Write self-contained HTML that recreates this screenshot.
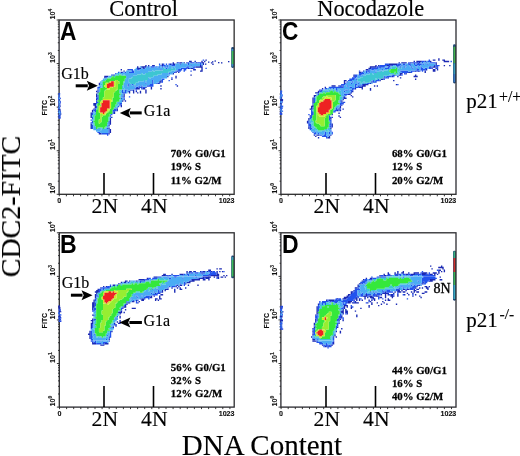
<!DOCTYPE html>
<html><head><meta charset="utf-8"><style>
html,body{margin:0;padding:0;background:#fff;width:520px;height:456px;overflow:hidden}
svg{display:block}
.tl{font-family:"Liberation Sans",sans-serif;font-weight:bold;font-size:6.5px;fill:#111;stroke:#111;stroke-width:0.12px}
.pl{font-family:"Liberation Sans",sans-serif;font-weight:bold;font-size:25px;fill:#000}
.nl{font-family:"Liberation Serif",serif;font-size:21.6px;fill:#000;stroke:#000;stroke-width:0.15px}
.pc{font-family:"Liberation Serif",serif;font-weight:bold;font-size:10.8px;fill:#000;stroke:#000;stroke-width:0.28px}
.gl{font-family:"Liberation Serif",serif;font-size:16px;fill:#000;stroke:#000;stroke-width:0.15px}
.big{font-family:"Liberation Serif",serif;fill:#000;stroke:#000;stroke-width:0.15px}
</style></head><body>
<svg width="520" height="456" viewBox="0 0 520 456">
<defs>
<filter id="glob" x="0" y="0" width="100%" height="100%" filterUnits="userSpaceOnUse"><feGaussianBlur stdDeviation="0.25"/></filter>
<filter id="jpg" x="-2%" y="-2%" width="104%" height="104%"><feGaussianBlur stdDeviation="0.45"/></filter>
</defs>
<rect width="520" height="456" fill="#fff"/>
<g filter="url(#glob)">
<g filter="url(#jpg)">
<path fill="#1a2ab4" d="M205.43 59.49h1.37v1.36h-1.37zM189.02 60.85h2.74v1.36h-2.74zM194.49 60.85h1.37v1.36h-1.37zM201.33 60.85h1.37v1.36h-1.37zM204.06 60.85h1.37v1.36h-1.37zM172.61 62.21h1.37v1.36h-1.37zM176.71 62.21h1.37v1.36h-1.37zM179.45 62.21h2.74v1.36h-2.74zM183.55 62.21h1.37v1.36h-1.37zM186.28 62.21h1.37v1.36h-1.37zM190.39 62.21h1.37v1.36h-1.37zM195.86 62.21h1.37v1.36h-1.37zM201.33 62.21h2.74v1.36h-2.74zM210.90 62.21h1.37v1.36h-1.37zM161.67 63.58h1.37v1.36h-1.37zM169.87 63.58h1.37v1.36h-1.37zM172.61 63.58h2.74v1.36h-2.74zM202.70 63.58h1.37v1.36h-1.37zM212.27 63.58h1.37v1.36h-1.37zM145.26 64.94h1.37v1.36h-1.37zM147.99 64.94h1.37v1.36h-1.37zM152.10 64.94h2.74v1.36h-2.74zM161.67 64.94h1.37v1.36h-1.37zM199.96 64.94h1.37v1.36h-1.37zM137.05 66.30h1.37v1.36h-1.37zM141.15 66.30h5.47v1.36h-5.47zM195.86 66.30h6.84v1.36h-6.84zM137.05 67.66h4.10v1.36h-4.10zM142.52 67.66h1.37v1.36h-1.37zM187.65 67.66h1.37v1.36h-1.37zM190.39 67.66h2.74v1.36h-2.74zM201.33 67.66h1.37v1.36h-1.37zM120.64 69.02h1.37v1.36h-1.37zM127.48 69.02h1.37v1.36h-1.37zM193.12 69.02h2.74v1.36h-2.74zM201.33 69.02h1.37v1.36h-1.37zM123.38 70.38h1.37v1.36h-1.37zM176.71 70.38h1.37v1.36h-1.37zM199.96 70.38h2.74v1.36h-2.74zM120.64 71.75h1.37v1.36h-1.37zM175.34 71.75h1.37v1.36h-1.37zM178.08 71.75h1.37v1.36h-1.37zM172.61 73.11h1.37v1.36h-1.37zM112.44 74.47h1.37v1.36h-1.37zM190.39 74.47h1.37v1.36h-1.37zM104.23 75.83h4.10v1.36h-4.10zM167.14 75.83h1.37v1.36h-1.37zM175.34 75.83h1.37v1.36h-1.37zM104.23 77.19h1.37v1.36h-1.37zM175.34 77.19h1.37v1.36h-1.37zM171.24 78.55h1.37v1.36h-1.37zM160.30 79.92h1.37v1.36h-1.37zM158.93 81.28h2.74v1.36h-2.74zM98.76 82.64h1.37v1.36h-1.37zM157.57 82.64h1.37v1.36h-1.37zM98.76 84.00h1.37v1.36h-1.37zM160.30 85.36h1.37v1.36h-1.37zM176.71 85.36h1.37v1.36h-1.37zM137.05 86.72h1.37v1.36h-1.37zM141.15 86.72h1.37v1.36h-1.37zM145.26 86.72h1.37v1.36h-1.37zM150.73 86.72h1.37v1.36h-1.37zM135.68 88.09h4.10v1.36h-4.10zM142.52 88.09h2.74v1.36h-2.74zM150.73 88.09h1.37v1.36h-1.37zM160.30 88.09h1.37v1.36h-1.37zM97.39 89.45h1.37v1.36h-1.37zM130.21 89.45h1.37v1.36h-1.37zM132.95 89.45h1.37v1.36h-1.37zM145.26 89.45h1.37v1.36h-1.37zM96.02 90.81h1.37v1.36h-1.37zM128.85 90.81h1.37v1.36h-1.37zM132.95 90.81h1.37v1.36h-1.37zM135.68 90.81h1.37v1.36h-1.37zM139.79 90.81h1.37v1.36h-1.37zM145.26 90.81h1.37v1.36h-1.37zM97.39 92.17h1.37v1.36h-1.37zM128.85 92.17h1.37v1.36h-1.37zM132.95 92.17h1.37v1.36h-1.37zM137.05 92.17h1.37v1.36h-1.37zM139.79 92.17h1.37v1.36h-1.37zM145.26 92.17h1.37v1.36h-1.37zM96.02 93.53h1.37v1.36h-1.37zM123.38 93.53h1.37v1.36h-1.37zM96.02 94.89h1.37v1.36h-1.37zM123.38 94.89h1.37v1.36h-1.37zM96.02 96.26h1.37v1.36h-1.37zM123.38 96.26h1.37v1.36h-1.37zM96.02 98.98h1.37v1.36h-1.37zM123.38 98.98h1.37v1.36h-1.37zM122.01 100.34h1.37v1.36h-1.37zM124.74 100.34h1.37v1.36h-1.37zM93.29 103.06h2.74v1.36h-2.74zM93.29 104.43h2.74v1.36h-2.74zM120.64 104.43h1.37v1.36h-1.37zM94.66 105.79h1.37v1.36h-1.37zM120.64 105.79h1.37v1.36h-1.37zM94.66 107.15h1.37v1.36h-1.37zM93.29 108.51h1.37v1.36h-1.37zM116.54 108.51h1.37v1.36h-1.37zM91.92 109.87h1.37v1.36h-1.37zM116.54 109.87h1.37v1.36h-1.37zM91.92 111.24h1.37v1.36h-1.37zM113.80 111.24h1.37v1.36h-1.37zM90.55 112.60h1.37v1.36h-1.37zM113.80 112.60h1.37v1.36h-1.37zM90.55 113.96h1.37v1.36h-1.37zM90.55 115.32h1.37v1.36h-1.37zM109.70 115.32h1.37v1.36h-1.37zM90.55 116.68h1.37v1.36h-1.37zM111.07 116.68h1.37v1.36h-1.37zM109.70 118.04h1.37v1.36h-1.37zM109.70 119.41h1.37v1.36h-1.37zM109.70 120.77h1.37v1.36h-1.37zM109.70 122.13h1.37v1.36h-1.37zM90.55 123.49h1.37v1.36h-1.37zM109.70 123.49h1.37v1.36h-1.37zM90.55 124.85h1.37v1.36h-1.37zM108.33 124.85h1.37v1.36h-1.37zM90.55 126.21h1.37v1.36h-1.37zM90.55 127.58h1.37v1.36h-1.37zM108.33 127.58h1.37v1.36h-1.37zM109.70 128.94h1.37v1.36h-1.37zM109.70 130.30h1.37v1.36h-1.37zM109.70 131.66h1.37v1.36h-1.37zM98.76 133.02h2.74v1.36h-2.74zM108.33 133.02h1.37v1.36h-1.37z"/>
<path fill="#2452ee" d="M202.70 59.49h1.37v1.36h-1.37zM178.08 62.21h1.37v1.36h-1.37zM187.65 62.21h1.37v1.36h-1.37zM191.76 62.21h2.74v1.36h-2.74zM197.23 62.21h4.10v1.36h-4.10zM158.93 63.58h1.37v1.36h-1.37zM163.04 63.58h1.37v1.36h-1.37zM165.77 63.58h1.37v1.36h-1.37zM168.51 63.58h1.37v1.36h-1.37zM171.24 63.58h1.37v1.36h-1.37zM179.45 63.58h1.37v1.36h-1.37zM187.65 63.58h1.37v1.36h-1.37zM199.96 63.58h1.37v1.36h-1.37zM160.30 64.94h1.37v1.36h-1.37zM163.04 64.94h2.74v1.36h-2.74zM167.14 64.94h1.37v1.36h-1.37zM171.24 64.94h4.10v1.36h-4.10zM190.39 64.94h1.37v1.36h-1.37zM201.33 64.94h1.37v1.36h-1.37zM147.99 66.30h1.37v1.36h-1.37zM150.73 66.30h4.10v1.36h-4.10zM156.20 66.30h1.37v1.36h-1.37zM158.93 66.30h1.37v1.36h-1.37zM161.67 66.30h1.37v1.36h-1.37zM164.40 66.30h1.37v1.36h-1.37zM167.14 66.30h1.37v1.36h-1.37zM186.28 66.30h2.74v1.36h-2.74zM193.12 66.30h2.74v1.36h-2.74zM143.89 67.66h1.37v1.36h-1.37zM165.77 67.66h1.37v1.36h-1.37zM180.81 67.66h6.84v1.36h-6.84zM189.02 67.66h1.37v1.36h-1.37zM193.12 67.66h1.37v1.36h-1.37zM205.43 67.66h1.37v1.36h-1.37zM128.85 69.02h4.10v1.36h-4.10zM137.05 69.02h2.74v1.36h-2.74zM160.30 69.02h1.37v1.36h-1.37zM178.08 69.02h4.10v1.36h-4.10zM183.55 69.02h2.74v1.36h-2.74zM131.58 70.38h2.74v1.36h-2.74zM175.34 70.38h1.37v1.36h-1.37zM178.08 70.38h2.74v1.36h-2.74zM183.55 70.38h1.37v1.36h-1.37zM190.39 70.38h1.37v1.36h-1.37zM117.91 71.75h1.37v1.36h-1.37zM122.01 71.75h1.37v1.36h-1.37zM124.74 71.75h1.37v1.36h-1.37zM128.85 71.75h5.47v1.36h-5.47zM173.98 71.75h1.37v1.36h-1.37zM115.17 73.11h1.37v1.36h-1.37zM168.51 73.11h1.37v1.36h-1.37zM111.07 74.47h1.37v1.36h-1.37zM113.80 74.47h1.37v1.36h-1.37zM105.60 77.19h1.37v1.36h-1.37zM171.24 77.19h1.37v1.36h-1.37zM161.67 78.55h2.74v1.36h-2.74zM152.10 79.92h1.37v1.36h-1.37zM161.67 79.92h1.37v1.36h-1.37zM168.51 79.92h1.37v1.36h-1.37zM152.10 81.28h1.37v1.36h-1.37zM161.67 81.28h1.37v1.36h-1.37zM145.26 82.64h1.37v1.36h-1.37zM152.10 82.64h1.37v1.36h-1.37zM156.20 82.64h1.37v1.36h-1.37zM158.93 82.64h1.37v1.36h-1.37zM127.48 84.00h1.37v1.36h-1.37zM131.58 84.00h1.37v1.36h-1.37zM149.36 84.00h4.10v1.36h-4.10zM175.34 84.00h1.37v1.36h-1.37zM127.48 85.36h1.37v1.36h-1.37zM134.32 85.36h1.37v1.36h-1.37zM138.42 85.36h1.37v1.36h-1.37zM141.15 85.36h1.37v1.36h-1.37zM146.62 85.36h6.84v1.36h-6.84zM97.39 86.72h2.74v1.36h-2.74zM135.68 86.72h1.37v1.36h-1.37zM138.42 86.72h2.74v1.36h-2.74zM142.52 86.72h2.74v1.36h-2.74zM97.39 88.09h1.37v1.36h-1.37zM134.32 88.09h1.37v1.36h-1.37zM141.15 88.09h1.37v1.36h-1.37zM122.01 89.45h1.37v1.36h-1.37zM124.74 89.45h2.74v1.36h-2.74zM131.58 89.45h1.37v1.36h-1.37zM135.68 89.45h1.37v1.36h-1.37zM97.39 90.81h1.37v1.36h-1.37zM122.01 90.81h1.37v1.36h-1.37zM124.74 90.81h1.37v1.36h-1.37zM127.48 90.81h1.37v1.36h-1.37zM122.01 92.17h4.10v1.36h-4.10zM97.39 94.89h1.37v1.36h-1.37zM97.39 96.26h1.37v1.36h-1.37zM122.01 96.26h1.37v1.36h-1.37zM128.85 96.26h1.37v1.36h-1.37zM96.02 97.62h2.74v1.36h-2.74zM120.64 97.62h1.37v1.36h-1.37zM123.38 97.62h1.37v1.36h-1.37zM97.39 98.98h1.37v1.36h-1.37zM96.02 100.34h1.37v1.36h-1.37zM96.02 101.70h2.74v1.36h-2.74zM96.02 103.06h1.37v1.36h-1.37zM119.27 103.06h2.74v1.36h-2.74zM119.27 104.43h1.37v1.36h-1.37zM96.02 105.79h1.37v1.36h-1.37zM117.91 105.79h1.37v1.36h-1.37zM96.02 107.15h1.37v1.36h-1.37zM116.54 107.15h1.37v1.36h-1.37zM94.66 108.51h1.37v1.36h-1.37zM113.80 108.51h2.74v1.36h-2.74zM93.29 109.87h2.74v1.36h-2.74zM112.44 109.87h4.10v1.36h-4.10zM94.66 111.24h1.37v1.36h-1.37zM112.44 111.24h1.37v1.36h-1.37zM91.92 112.60h1.37v1.36h-1.37zM112.44 112.60h1.37v1.36h-1.37zM91.92 113.96h1.37v1.36h-1.37zM111.07 113.96h1.37v1.36h-1.37zM91.92 116.68h1.37v1.36h-1.37zM91.92 118.04h1.37v1.36h-1.37zM90.55 119.41h1.37v1.36h-1.37zM91.92 120.77h1.37v1.36h-1.37zM108.33 120.77h1.37v1.36h-1.37zM90.55 122.13h2.74v1.36h-2.74zM108.33 122.13h1.37v1.36h-1.37zM108.33 123.49h1.37v1.36h-1.37zM91.92 124.85h1.37v1.36h-1.37zM91.92 126.21h1.37v1.36h-1.37zM91.92 127.58h1.37v1.36h-1.37zM106.97 127.58h1.37v1.36h-1.37zM108.33 128.94h1.37v1.36h-1.37zM108.33 130.30h1.37v1.36h-1.37zM97.39 131.66h2.74v1.36h-2.74zM108.33 131.66h1.37v1.36h-1.37zM101.49 133.02h6.84v1.36h-6.84zM106.97 134.38h1.37v1.36h-1.37z"/>
<path fill="#4cacf4" d="M182.18 62.21h1.37v1.36h-1.37zM189.02 62.21h1.37v1.36h-1.37zM194.49 62.21h1.37v1.36h-1.37zM175.34 63.58h4.10v1.36h-4.10zM180.81 63.58h6.84v1.36h-6.84zM189.02 63.58h10.94v1.36h-10.94zM201.33 63.58h1.37v1.36h-1.37zM158.93 64.94h1.37v1.36h-1.37zM165.77 64.94h1.37v1.36h-1.37zM168.51 64.94h2.74v1.36h-2.74zM175.34 64.94h15.04v1.36h-15.04zM191.76 64.94h8.21v1.36h-8.21zM139.79 66.30h1.37v1.36h-1.37zM146.62 66.30h1.37v1.36h-1.37zM149.36 66.30h1.37v1.36h-1.37zM154.83 66.30h1.37v1.36h-1.37zM157.57 66.30h1.37v1.36h-1.37zM160.30 66.30h1.37v1.36h-1.37zM163.04 66.30h1.37v1.36h-1.37zM165.77 66.30h1.37v1.36h-1.37zM168.51 66.30h17.78v1.36h-17.78zM189.02 66.30h4.10v1.36h-4.10zM135.68 67.66h1.37v1.36h-1.37zM141.15 67.66h1.37v1.36h-1.37zM145.26 67.66h17.78v1.36h-17.78zM164.40 67.66h1.37v1.36h-1.37zM167.14 67.66h4.10v1.36h-4.10zM172.61 67.66h1.37v1.36h-1.37zM175.34 67.66h5.47v1.36h-5.47zM134.32 69.02h2.74v1.36h-2.74zM139.79 69.02h20.51v1.36h-20.51zM161.67 69.02h1.37v1.36h-1.37zM175.34 69.02h2.74v1.36h-2.74zM126.11 70.38h5.47v1.36h-5.47zM134.32 70.38h17.78v1.36h-17.78zM153.46 70.38h1.37v1.36h-1.37zM171.24 70.38h4.10v1.36h-4.10zM119.27 71.75h1.37v1.36h-1.37zM123.38 71.75h1.37v1.36h-1.37zM126.11 71.75h2.74v1.36h-2.74zM134.32 71.75h13.68v1.36h-13.68zM168.51 71.75h5.47v1.36h-5.47zM116.54 73.11h1.37v1.36h-1.37zM119.27 73.11h21.88v1.36h-21.88zM142.52 73.11h2.74v1.36h-2.74zM161.67 73.11h6.84v1.36h-6.84zM169.87 73.11h2.74v1.36h-2.74zM122.01 74.47h1.37v1.36h-1.37zM124.74 74.47h12.31v1.36h-12.31zM157.57 74.47h12.31v1.36h-12.31zM108.33 75.83h2.74v1.36h-2.74zM126.11 75.83h6.84v1.36h-6.84zM153.46 75.83h13.68v1.36h-13.68zM106.97 77.19h1.37v1.36h-1.37zM126.11 77.19h5.47v1.36h-5.47zM147.99 77.19h1.37v1.36h-1.37zM150.73 77.19h16.41v1.36h-16.41zM102.86 78.55h1.37v1.36h-1.37zM126.11 78.55h2.74v1.36h-2.74zM147.99 78.55h13.68v1.36h-13.68zM101.49 79.92h1.37v1.36h-1.37zM124.74 79.92h4.10v1.36h-4.10zM143.89 79.92h1.37v1.36h-1.37zM146.62 79.92h5.47v1.36h-5.47zM153.46 79.92h6.84v1.36h-6.84zM100.13 81.28h1.37v1.36h-1.37zM124.74 81.28h4.10v1.36h-4.10zM138.42 81.28h13.68v1.36h-13.68zM153.46 81.28h5.47v1.36h-5.47zM100.13 82.64h1.37v1.36h-1.37zM123.38 82.64h6.84v1.36h-6.84zM135.68 82.64h9.57v1.36h-9.57zM146.62 82.64h5.47v1.36h-5.47zM153.46 82.64h2.74v1.36h-2.74zM123.38 84.00h4.10v1.36h-4.10zM128.85 84.00h2.74v1.36h-2.74zM132.95 84.00h1.37v1.36h-1.37zM135.68 84.00h13.68v1.36h-13.68zM98.76 85.36h2.74v1.36h-2.74zM123.38 85.36h4.10v1.36h-4.10zM128.85 85.36h5.47v1.36h-5.47zM135.68 85.36h2.74v1.36h-2.74zM139.79 85.36h1.37v1.36h-1.37zM142.52 85.36h4.10v1.36h-4.10zM100.13 86.72h1.37v1.36h-1.37zM123.38 86.72h12.31v1.36h-12.31zM98.76 88.09h1.37v1.36h-1.37zM124.74 88.09h9.57v1.36h-9.57zM98.76 89.45h1.37v1.36h-1.37zM123.38 89.45h1.37v1.36h-1.37zM127.48 89.45h2.74v1.36h-2.74zM98.76 90.81h1.37v1.36h-1.37zM120.64 90.81h1.37v1.36h-1.37zM123.38 90.81h1.37v1.36h-1.37zM126.11 90.81h1.37v1.36h-1.37zM126.11 92.17h1.37v1.36h-1.37zM120.64 93.53h2.74v1.36h-2.74zM120.64 94.89h2.74v1.36h-2.74zM120.64 96.26h1.37v1.36h-1.37zM122.01 97.62h1.37v1.36h-1.37zM120.64 98.98h2.74v1.36h-2.74zM119.27 100.34h2.74v1.36h-2.74zM117.91 101.70h4.10v1.36h-4.10zM117.91 103.06h1.37v1.36h-1.37zM116.54 105.79h1.37v1.36h-1.37zM93.29 111.24h1.37v1.36h-1.37zM93.29 112.60h1.37v1.36h-1.37zM109.70 113.96h1.37v1.36h-1.37zM109.70 116.68h1.37v1.36h-1.37zM91.92 119.41h1.37v1.36h-1.37zM91.92 123.49h1.37v1.36h-1.37zM93.29 124.85h1.37v1.36h-1.37zM106.97 124.85h1.37v1.36h-1.37zM93.29 126.21h2.74v1.36h-2.74zM106.97 126.21h2.74v1.36h-2.74zM93.29 127.58h2.74v1.36h-2.74zM100.13 127.58h1.37v1.36h-1.37zM105.60 127.58h1.37v1.36h-1.37zM93.29 128.94h6.84v1.36h-6.84zM101.49 128.94h6.84v1.36h-6.84zM96.02 130.30h12.31v1.36h-12.31zM100.13 131.66h8.21v1.36h-8.21z"/>
<path fill="#3cc6d2" d="M163.04 67.66h1.37v1.36h-1.37zM171.24 67.66h1.37v1.36h-1.37zM173.98 67.66h1.37v1.36h-1.37zM163.04 69.02h12.31v1.36h-12.31zM152.10 70.38h1.37v1.36h-1.37zM154.83 70.38h16.41v1.36h-16.41zM147.99 71.75h20.51v1.36h-20.51zM117.91 73.11h1.37v1.36h-1.37zM141.15 73.11h1.37v1.36h-1.37zM145.26 73.11h16.41v1.36h-16.41zM115.17 74.47h4.10v1.36h-4.10zM120.64 74.47h1.37v1.36h-1.37zM123.38 74.47h1.37v1.36h-1.37zM137.05 74.47h20.51v1.36h-20.51zM111.07 75.83h1.37v1.36h-1.37zM113.80 75.83h1.37v1.36h-1.37zM132.95 75.83h20.51v1.36h-20.51zM108.33 77.19h2.74v1.36h-2.74zM131.58 77.19h16.41v1.36h-16.41zM149.36 77.19h1.37v1.36h-1.37zM104.23 78.55h2.74v1.36h-2.74zM124.74 78.55h1.37v1.36h-1.37zM128.85 78.55h19.15v1.36h-19.15zM102.86 79.92h2.74v1.36h-2.74zM128.85 79.92h15.04v1.36h-15.04zM145.26 79.92h1.37v1.36h-1.37zM101.49 81.28h1.37v1.36h-1.37zM123.38 81.28h1.37v1.36h-1.37zM128.85 81.28h9.57v1.36h-9.57zM101.49 82.64h1.37v1.36h-1.37zM130.21 82.64h5.47v1.36h-5.47zM100.13 84.00h2.74v1.36h-2.74zM134.32 84.00h1.37v1.36h-1.37zM101.49 85.36h1.37v1.36h-1.37zM122.01 85.36h1.37v1.36h-1.37zM101.49 86.72h1.37v1.36h-1.37zM122.01 86.72h1.37v1.36h-1.37zM122.01 88.09h2.74v1.36h-2.74zM119.27 89.45h2.74v1.36h-2.74zM119.27 90.81h1.37v1.36h-1.37zM119.27 92.17h2.74v1.36h-2.74zM97.39 93.53h1.37v1.36h-1.37zM119.27 94.89h1.37v1.36h-1.37zM119.27 96.26h1.37v1.36h-1.37zM119.27 98.98h1.37v1.36h-1.37zM116.54 101.70h1.37v1.36h-1.37zM116.54 103.06h1.37v1.36h-1.37zM96.02 104.43h1.37v1.36h-1.37zM115.17 104.43h4.10v1.36h-4.10zM115.17 105.79h1.37v1.36h-1.37zM113.80 107.15h2.74v1.36h-2.74zM96.02 108.51h1.37v1.36h-1.37zM94.66 112.60h1.37v1.36h-1.37zM93.29 113.96h2.74v1.36h-2.74zM91.92 115.32h2.74v1.36h-2.74zM93.29 116.68h1.37v1.36h-1.37zM108.33 116.68h1.37v1.36h-1.37zM93.29 118.04h1.37v1.36h-1.37zM108.33 118.04h1.37v1.36h-1.37zM93.29 119.41h1.37v1.36h-1.37zM108.33 119.41h1.37v1.36h-1.37zM93.29 122.13h1.37v1.36h-1.37zM106.97 122.13h1.37v1.36h-1.37zM93.29 123.49h1.37v1.36h-1.37zM106.97 123.49h1.37v1.36h-1.37zM105.60 126.21h1.37v1.36h-1.37zM97.39 127.58h2.74v1.36h-2.74zM101.49 127.58h1.37v1.36h-1.37zM104.23 127.58h1.37v1.36h-1.37zM100.13 128.94h1.37v1.36h-1.37z"/>
<path fill="#36e83a" d="M119.27 74.47h1.37v1.36h-1.37zM112.44 75.83h1.37v1.36h-1.37zM115.17 75.83h10.94v1.36h-10.94zM111.07 77.19h15.04v1.36h-15.04zM106.97 78.55h17.78v1.36h-17.78zM105.60 79.92h9.57v1.36h-9.57zM117.91 79.92h6.84v1.36h-6.84zM102.86 81.28h6.84v1.36h-6.84zM119.27 81.28h4.10v1.36h-4.10zM102.86 82.64h2.74v1.36h-2.74zM119.27 82.64h4.10v1.36h-4.10zM102.86 84.00h2.74v1.36h-2.74zM117.91 84.00h5.47v1.36h-5.47zM102.86 85.36h1.37v1.36h-1.37zM117.91 85.36h4.10v1.36h-4.10zM102.86 86.72h2.74v1.36h-2.74zM117.91 86.72h4.10v1.36h-4.10zM100.13 88.09h6.84v1.36h-6.84zM117.91 88.09h4.10v1.36h-4.10zM100.13 89.45h5.47v1.36h-5.47zM116.54 89.45h2.74v1.36h-2.74zM100.13 90.81h4.10v1.36h-4.10zM115.17 90.81h4.10v1.36h-4.10zM98.76 92.17h5.47v1.36h-5.47zM113.80 92.17h5.47v1.36h-5.47zM98.76 93.53h5.47v1.36h-5.47zM113.80 93.53h6.84v1.36h-6.84zM98.76 94.89h5.47v1.36h-5.47zM113.80 94.89h5.47v1.36h-5.47zM98.76 96.26h5.47v1.36h-5.47zM113.80 96.26h5.47v1.36h-5.47zM98.76 97.62h4.10v1.36h-4.10zM112.44 97.62h8.21v1.36h-8.21zM98.76 98.98h4.10v1.36h-4.10zM112.44 98.98h6.84v1.36h-6.84zM97.39 100.34h4.10v1.36h-4.10zM112.44 100.34h6.84v1.36h-6.84zM98.76 101.70h1.37v1.36h-1.37zM111.07 101.70h5.47v1.36h-5.47zM97.39 103.06h2.74v1.36h-2.74zM111.07 103.06h5.47v1.36h-5.47zM97.39 104.43h4.10v1.36h-4.10zM111.07 104.43h4.10v1.36h-4.10zM97.39 105.79h1.37v1.36h-1.37zM111.07 105.79h4.10v1.36h-4.10zM97.39 107.15h1.37v1.36h-1.37zM111.07 107.15h2.74v1.36h-2.74zM97.39 108.51h1.37v1.36h-1.37zM109.70 108.51h4.10v1.36h-4.10zM96.02 109.87h2.74v1.36h-2.74zM109.70 109.87h2.74v1.36h-2.74zM96.02 111.24h2.74v1.36h-2.74zM108.33 111.24h4.10v1.36h-4.10zM96.02 112.60h4.10v1.36h-4.10zM106.97 112.60h5.47v1.36h-5.47zM96.02 113.96h4.10v1.36h-4.10zM105.60 113.96h4.10v1.36h-4.10zM94.66 115.32h5.47v1.36h-5.47zM102.86 115.32h6.84v1.36h-6.84zM94.66 116.68h5.47v1.36h-5.47zM101.49 116.68h6.84v1.36h-6.84zM94.66 118.04h5.47v1.36h-5.47zM101.49 118.04h6.84v1.36h-6.84zM94.66 119.41h4.10v1.36h-4.10zM101.49 119.41h6.84v1.36h-6.84zM93.29 120.77h5.47v1.36h-5.47zM101.49 120.77h6.84v1.36h-6.84zM94.66 122.13h4.10v1.36h-4.10zM100.13 122.13h6.84v1.36h-6.84zM94.66 123.49h12.31v1.36h-12.31zM94.66 124.85h12.31v1.36h-12.31zM96.02 126.21h9.57v1.36h-9.57zM96.02 127.58h1.37v1.36h-1.37zM102.86 127.58h1.37v1.36h-1.37z"/>
<path fill="#96ee30" d="M115.17 79.92h2.74v1.36h-2.74zM115.17 81.28h4.10v1.36h-4.10zM115.17 82.64h4.10v1.36h-4.10zM115.17 84.00h2.74v1.36h-2.74zM115.17 85.36h2.74v1.36h-2.74zM112.44 86.72h5.47v1.36h-5.47zM109.70 88.09h8.21v1.36h-8.21zM105.60 89.45h10.94v1.36h-10.94zM104.23 90.81h10.94v1.36h-10.94zM104.23 92.17h9.57v1.36h-9.57zM104.23 93.53h9.57v1.36h-9.57zM104.23 94.89h9.57v1.36h-9.57zM104.23 96.26h9.57v1.36h-9.57zM102.86 97.62h9.57v1.36h-9.57zM111.07 98.98h1.37v1.36h-1.37zM108.33 109.87h1.37v1.36h-1.37zM106.97 111.24h1.37v1.36h-1.37zM105.60 112.60h1.37v1.36h-1.37zM100.13 113.96h2.74v1.36h-2.74zM100.13 115.32h2.74v1.36h-2.74zM100.13 116.68h1.37v1.36h-1.37zM100.13 118.04h1.37v1.36h-1.37zM98.76 119.41h2.74v1.36h-2.74zM98.76 120.77h2.74v1.36h-2.74zM98.76 122.13h1.37v1.36h-1.37z"/>
<path fill="#d2ea28" d="M109.70 81.28h1.37v1.36h-1.37zM113.80 81.28h1.37v1.36h-1.37zM105.60 82.64h2.74v1.36h-2.74zM113.80 82.64h1.37v1.36h-1.37zM105.60 84.00h1.37v1.36h-1.37zM113.80 84.00h1.37v1.36h-1.37zM104.23 85.36h2.74v1.36h-2.74zM113.80 85.36h1.37v1.36h-1.37zM105.60 86.72h1.37v1.36h-1.37zM109.70 86.72h2.74v1.36h-2.74zM106.97 88.09h2.74v1.36h-2.74zM102.86 98.98h8.21v1.36h-8.21zM101.49 100.34h1.37v1.36h-1.37zM109.70 100.34h2.74v1.36h-2.74zM100.13 101.70h2.74v1.36h-2.74zM109.70 101.70h1.37v1.36h-1.37zM100.13 103.06h1.37v1.36h-1.37zM109.70 103.06h1.37v1.36h-1.37zM109.70 104.43h1.37v1.36h-1.37zM98.76 105.79h2.74v1.36h-2.74zM109.70 105.79h1.37v1.36h-1.37zM98.76 107.15h1.37v1.36h-1.37zM109.70 107.15h1.37v1.36h-1.37zM98.76 108.51h1.37v1.36h-1.37zM106.97 108.51h2.74v1.36h-2.74zM98.76 109.87h1.37v1.36h-1.37zM106.97 109.87h1.37v1.36h-1.37zM98.76 111.24h1.37v1.36h-1.37zM105.60 111.24h1.37v1.36h-1.37zM100.13 112.60h2.74v1.36h-2.74zM104.23 112.60h1.37v1.36h-1.37zM102.86 113.96h2.74v1.36h-2.74z"/>
<path fill="#ee2222" d="M111.07 81.28h2.74v1.36h-2.74zM108.33 82.64h5.47v1.36h-5.47zM106.97 84.00h6.84v1.36h-6.84zM106.97 85.36h6.84v1.36h-6.84zM106.97 86.72h2.74v1.36h-2.74zM102.86 100.34h6.84v1.36h-6.84zM102.86 101.70h6.84v1.36h-6.84zM101.49 103.06h8.21v1.36h-8.21zM101.49 104.43h8.21v1.36h-8.21zM101.49 105.79h8.21v1.36h-8.21zM100.13 107.15h9.57v1.36h-9.57zM100.13 108.51h6.84v1.36h-6.84zM100.13 109.87h6.84v1.36h-6.84zM100.13 111.24h5.47v1.36h-5.47zM102.86 112.60h1.37v1.36h-1.37z"/>
<path fill="#1a2ab4" d="M216.44 268.20h1.37v1.36h-1.37zM219.17 268.20h2.73v1.36h-2.73zM208.24 269.57h2.73v1.36h-2.73zM186.38 270.93h1.37v1.36h-1.37zM189.11 270.93h2.73v1.36h-2.73zM193.21 270.93h2.73v1.36h-2.73zM200.04 270.93h1.37v1.36h-1.37zM202.77 270.93h2.73v1.36h-2.73zM206.87 270.93h1.37v1.36h-1.37zM210.97 270.93h1.37v1.36h-1.37zM216.44 270.93h1.37v1.36h-1.37zM219.17 270.93h1.37v1.36h-1.37zM221.90 270.93h1.37v1.36h-1.37zM186.38 272.29h1.37v1.36h-1.37zM189.11 272.29h1.37v1.36h-1.37zM201.41 272.29h1.37v1.36h-1.37zM216.44 272.29h1.37v1.36h-1.37zM163.15 273.65h2.73v1.36h-2.73zM171.35 273.65h1.37v1.36h-1.37zM179.54 273.65h4.10v1.36h-4.10zM216.44 273.65h2.73v1.36h-2.73zM161.78 275.01h4.10v1.36h-4.10zM167.25 275.01h1.37v1.36h-1.37zM208.24 275.01h1.37v1.36h-1.37zM210.97 275.01h8.20v1.36h-8.20zM223.27 275.01h1.37v1.36h-1.37zM226.00 275.01h1.37v1.36h-1.37zM153.58 276.38h4.10v1.36h-4.10zM202.77 276.38h8.20v1.36h-8.20zM213.70 276.38h1.37v1.36h-1.37zM216.44 276.38h2.73v1.36h-2.73zM220.54 276.38h2.73v1.36h-2.73zM224.64 276.38h1.37v1.36h-1.37zM146.75 277.74h1.37v1.36h-1.37zM198.67 277.74h5.47v1.36h-5.47zM205.51 277.74h4.10v1.36h-4.10zM217.80 277.74h1.37v1.36h-1.37zM138.55 279.10h5.47v1.36h-5.47zM145.38 279.10h1.37v1.36h-1.37zM191.84 279.10h8.20v1.36h-8.20zM202.77 279.10h2.73v1.36h-2.73zM208.24 279.10h1.37v1.36h-1.37zM124.89 280.46h2.73v1.36h-2.73zM128.99 280.46h1.37v1.36h-1.37zM135.82 280.46h1.37v1.36h-1.37zM189.11 280.46h5.47v1.36h-5.47zM120.79 281.82h1.37v1.36h-1.37zM123.52 281.82h2.73v1.36h-2.73zM186.38 281.82h4.10v1.36h-4.10zM118.06 283.18h1.37v1.36h-1.37zM185.01 283.18h1.37v1.36h-1.37zM112.59 284.55h2.73v1.36h-2.73zM176.81 284.55h1.37v1.36h-1.37zM179.54 284.55h2.73v1.36h-2.73zM187.74 284.55h1.37v1.36h-1.37zM197.31 284.55h1.37v1.36h-1.37zM103.02 285.91h1.37v1.36h-1.37zM105.76 285.91h1.37v1.36h-1.37zM109.86 285.91h1.37v1.36h-1.37zM175.44 285.91h1.37v1.36h-1.37zM178.18 285.91h1.37v1.36h-1.37zM100.29 287.27h1.37v1.36h-1.37zM171.35 287.27h1.37v1.36h-1.37zM176.81 287.27h1.37v1.36h-1.37zM179.54 287.27h1.37v1.36h-1.37zM185.01 287.27h1.37v1.36h-1.37zM97.56 288.63h1.37v1.36h-1.37zM164.51 288.63h4.10v1.36h-4.10zM174.08 288.63h1.37v1.36h-1.37zM179.54 288.63h2.73v1.36h-2.73zM96.19 289.99h2.73v1.36h-2.73zM161.78 289.99h1.37v1.36h-1.37zM164.51 289.99h1.37v1.36h-1.37zM174.08 289.99h1.37v1.36h-1.37zM94.83 291.35h4.10v1.36h-4.10zM161.78 291.35h1.37v1.36h-1.37zM174.08 291.35h1.37v1.36h-1.37zM96.19 292.72h1.37v1.36h-1.37zM154.95 292.72h1.37v1.36h-1.37zM159.05 292.72h1.37v1.36h-1.37zM94.83 294.08h1.37v1.36h-1.37zM160.41 294.08h2.73v1.36h-2.73zM94.83 295.44h1.37v1.36h-1.37zM150.85 295.44h1.37v1.36h-1.37zM153.58 295.44h1.37v1.36h-1.37zM159.05 295.44h1.37v1.36h-1.37zM94.83 296.80h1.37v1.36h-1.37zM149.48 296.80h2.73v1.36h-2.73zM159.05 296.80h1.37v1.36h-1.37zM141.28 298.16h4.10v1.36h-4.10zM154.95 298.16h2.73v1.36h-2.73zM159.05 298.16h2.73v1.36h-2.73zM93.46 299.52h1.37v1.36h-1.37zM135.82 299.52h1.37v1.36h-1.37zM141.28 299.52h2.73v1.36h-2.73zM154.95 299.52h1.37v1.36h-1.37zM157.68 299.52h1.37v1.36h-1.37zM93.46 300.89h1.37v1.36h-1.37zM131.72 300.89h2.73v1.36h-2.73zM138.55 300.89h1.37v1.36h-1.37zM92.09 302.25h2.73v1.36h-2.73zM127.62 302.25h2.73v1.36h-2.73zM137.19 302.25h1.37v1.36h-1.37zM92.09 303.61h2.73v1.36h-2.73zM126.25 303.61h1.37v1.36h-1.37zM92.09 304.97h2.73v1.36h-2.73zM124.89 304.97h1.37v1.36h-1.37zM92.09 306.33h2.73v1.36h-2.73zM123.52 306.33h2.73v1.36h-2.73zM92.09 307.69h1.37v1.36h-1.37zM122.15 307.69h1.37v1.36h-1.37zM131.72 307.69h4.10v1.36h-4.10zM92.09 309.06h1.37v1.36h-1.37zM124.89 309.06h1.37v1.36h-1.37zM120.79 310.42h1.37v1.36h-1.37zM118.06 311.78h4.10v1.36h-4.10zM123.52 311.78h1.37v1.36h-1.37zM119.42 313.14h1.37v1.36h-1.37zM92.09 314.50h2.73v1.36h-2.73zM119.42 315.86h1.37v1.36h-1.37zM119.42 317.23h1.37v1.36h-1.37zM92.09 318.59h1.37v1.36h-1.37zM90.73 319.95h2.73v1.36h-2.73zM119.42 319.95h1.37v1.36h-1.37zM92.09 321.31h1.37v1.36h-1.37zM116.69 321.31h1.37v1.36h-1.37zM119.42 321.31h1.37v1.36h-1.37zM90.73 322.67h2.73v1.36h-2.73zM113.96 322.67h1.37v1.36h-1.37zM118.06 322.67h2.73v1.36h-2.73zM90.73 324.04h1.37v1.36h-1.37zM115.32 324.04h1.37v1.36h-1.37zM90.73 325.40h1.37v1.36h-1.37zM115.32 325.40h1.37v1.36h-1.37zM90.73 326.76h1.37v1.36h-1.37zM112.59 326.76h1.37v1.36h-1.37zM89.36 330.84h1.37v1.36h-1.37zM111.22 330.84h1.37v1.36h-1.37zM89.36 332.21h1.37v1.36h-1.37zM87.99 333.57h2.73v1.36h-2.73zM89.36 334.93h1.37v1.36h-1.37zM89.36 336.29h1.37v1.36h-1.37zM89.36 337.65h1.37v1.36h-1.37zM108.49 339.01h1.37v1.36h-1.37zM92.09 341.74h1.37v1.36h-1.37zM92.09 343.10h4.10v1.36h-4.10zM104.39 343.10h4.10v1.36h-4.10zM100.29 344.46h4.10v1.36h-4.10z"/>
<path fill="#2452ee" d="M201.41 270.93h1.37v1.36h-1.37zM208.24 270.93h2.73v1.36h-2.73zM212.34 270.93h2.73v1.36h-2.73zM223.27 270.93h1.37v1.36h-1.37zM190.47 272.29h2.73v1.36h-2.73zM194.57 272.29h4.10v1.36h-4.10zM200.04 272.29h1.37v1.36h-1.37zM202.77 272.29h2.73v1.36h-2.73zM209.60 272.29h6.83v1.36h-6.83zM183.64 273.65h1.37v1.36h-1.37zM186.38 273.65h2.73v1.36h-2.73zM201.41 273.65h1.37v1.36h-1.37zM208.24 273.65h8.20v1.36h-8.20zM165.88 275.01h1.37v1.36h-1.37zM168.61 275.01h2.73v1.36h-2.73zM172.71 275.01h6.83v1.36h-6.83zM182.28 275.01h1.37v1.36h-1.37zM187.74 275.01h1.37v1.36h-1.37zM194.57 275.01h1.37v1.36h-1.37zM202.77 275.01h5.47v1.36h-5.47zM209.60 275.01h1.37v1.36h-1.37zM157.68 276.38h4.10v1.36h-4.10zM167.25 276.38h1.37v1.36h-1.37zM174.08 276.38h2.73v1.36h-2.73zM193.21 276.38h1.37v1.36h-1.37zM195.94 276.38h1.37v1.36h-1.37zM201.41 276.38h1.37v1.36h-1.37zM148.12 277.74h2.73v1.36h-2.73zM152.22 277.74h5.47v1.36h-5.47zM168.61 277.74h2.73v1.36h-2.73zM182.28 277.74h1.37v1.36h-1.37zM197.31 277.74h1.37v1.36h-1.37zM204.14 277.74h1.37v1.36h-1.37zM216.44 277.74h1.37v1.36h-1.37zM144.02 279.10h1.37v1.36h-1.37zM146.75 279.10h2.73v1.36h-2.73zM152.22 279.10h1.37v1.36h-1.37zM190.47 279.10h1.37v1.36h-1.37zM137.19 280.46h1.37v1.36h-1.37zM139.92 280.46h5.47v1.36h-5.47zM127.62 281.82h1.37v1.36h-1.37zM139.92 281.82h1.37v1.36h-1.37zM183.64 281.82h1.37v1.36h-1.37zM119.42 283.18h1.37v1.36h-1.37zM179.54 283.18h1.37v1.36h-1.37zM183.64 283.18h1.37v1.36h-1.37zM109.86 284.55h1.37v1.36h-1.37zM116.69 284.55h1.37v1.36h-1.37zM175.44 284.55h1.37v1.36h-1.37zM183.64 284.55h1.37v1.36h-1.37zM107.12 285.91h2.73v1.36h-2.73zM168.61 285.91h1.37v1.36h-1.37zM171.35 285.91h4.10v1.36h-4.10zM101.66 287.27h8.20v1.36h-8.20zM167.25 287.27h1.37v1.36h-1.37zM98.93 288.63h2.73v1.36h-2.73zM103.02 288.63h1.37v1.36h-1.37zM152.22 288.63h1.37v1.36h-1.37zM156.31 288.63h1.37v1.36h-1.37zM98.93 289.99h2.73v1.36h-2.73zM157.68 289.99h1.37v1.36h-1.37zM98.93 291.35h1.37v1.36h-1.37zM153.58 291.35h1.37v1.36h-1.37zM157.68 291.35h4.10v1.36h-4.10zM150.85 292.72h1.37v1.36h-1.37zM156.31 292.72h2.73v1.36h-2.73zM96.19 294.08h1.37v1.36h-1.37zM152.22 294.08h5.47v1.36h-5.47zM96.19 295.44h2.73v1.36h-2.73zM135.82 295.44h1.37v1.36h-1.37zM141.28 295.44h1.37v1.36h-1.37zM145.38 295.44h5.47v1.36h-5.47zM137.19 296.80h1.37v1.36h-1.37zM144.02 296.80h5.47v1.36h-5.47zM94.83 298.16h2.73v1.36h-2.73zM130.35 298.16h1.37v1.36h-1.37zM139.92 298.16h1.37v1.36h-1.37zM148.12 298.16h1.37v1.36h-1.37zM94.83 299.52h1.37v1.36h-1.37zM133.09 299.52h1.37v1.36h-1.37zM137.19 299.52h1.37v1.36h-1.37zM126.25 300.89h1.37v1.36h-1.37zM135.82 300.89h1.37v1.36h-1.37zM94.83 302.25h1.37v1.36h-1.37zM126.25 302.25h1.37v1.36h-1.37zM135.82 302.25h1.37v1.36h-1.37zM94.83 303.61h1.37v1.36h-1.37zM124.89 303.61h1.37v1.36h-1.37zM94.83 304.97h1.37v1.36h-1.37zM123.52 304.97h1.37v1.36h-1.37zM122.15 306.33h1.37v1.36h-1.37zM93.46 307.69h2.73v1.36h-2.73zM120.79 307.69h1.37v1.36h-1.37zM93.46 309.06h2.73v1.36h-2.73zM120.79 309.06h1.37v1.36h-1.37zM92.09 310.42h2.73v1.36h-2.73zM119.42 310.42h1.37v1.36h-1.37zM116.69 315.86h1.37v1.36h-1.37zM115.32 317.23h1.37v1.36h-1.37zM93.46 318.59h2.73v1.36h-2.73zM115.32 318.59h1.37v1.36h-1.37zM93.46 319.95h1.37v1.36h-1.37zM92.09 324.04h1.37v1.36h-1.37zM113.96 324.04h1.37v1.36h-1.37zM92.09 325.40h1.37v1.36h-1.37zM112.59 325.40h1.37v1.36h-1.37zM92.09 326.76h1.37v1.36h-1.37zM111.22 326.76h1.37v1.36h-1.37zM90.73 328.12h1.37v1.36h-1.37zM90.73 330.84h1.37v1.36h-1.37zM109.86 330.84h1.37v1.36h-1.37zM90.73 332.21h1.37v1.36h-1.37zM109.86 332.21h1.37v1.36h-1.37zM90.73 333.57h1.37v1.36h-1.37zM93.46 333.57h1.37v1.36h-1.37zM109.86 333.57h1.37v1.36h-1.37zM90.73 334.93h1.37v1.36h-1.37zM107.12 334.93h1.37v1.36h-1.37zM109.86 334.93h1.37v1.36h-1.37zM90.73 336.29h2.73v1.36h-2.73zM108.49 336.29h2.73v1.36h-2.73zM90.73 337.65h1.37v1.36h-1.37zM108.49 337.65h1.37v1.36h-1.37zM90.73 339.01h2.73v1.36h-2.73zM105.76 339.01h1.37v1.36h-1.37zM90.73 340.38h2.73v1.36h-2.73zM94.83 340.38h1.37v1.36h-1.37zM100.29 340.38h1.37v1.36h-1.37zM108.49 340.38h1.37v1.36h-1.37zM93.46 341.74h2.73v1.36h-2.73zM103.02 341.74h4.10v1.36h-4.10zM96.19 343.10h5.47v1.36h-5.47zM103.02 343.10h1.37v1.36h-1.37z"/>
<path fill="#4cacf4" d="M205.51 270.93h1.37v1.36h-1.37zM187.74 272.29h1.37v1.36h-1.37zM193.21 272.29h1.37v1.36h-1.37zM198.67 272.29h1.37v1.36h-1.37zM205.51 272.29h4.10v1.36h-4.10zM185.01 273.65h1.37v1.36h-1.37zM189.11 273.65h12.30v1.36h-12.30zM202.77 273.65h5.47v1.36h-5.47zM171.35 275.01h1.37v1.36h-1.37zM179.54 275.01h2.73v1.36h-2.73zM183.64 275.01h4.10v1.36h-4.10zM189.11 275.01h5.47v1.36h-5.47zM195.94 275.01h6.83v1.36h-6.83zM161.78 276.38h5.47v1.36h-5.47zM168.61 276.38h5.47v1.36h-5.47zM176.81 276.38h16.40v1.36h-16.40zM194.57 276.38h1.37v1.36h-1.37zM197.31 276.38h4.10v1.36h-4.10zM163.15 277.74h5.47v1.36h-5.47zM171.35 277.74h10.93v1.36h-10.93zM183.64 277.74h13.66v1.36h-13.66zM149.48 279.10h2.73v1.36h-2.73zM153.58 279.10h1.37v1.36h-1.37zM164.51 279.10h1.37v1.36h-1.37zM168.61 279.10h21.86v1.36h-21.86zM130.35 280.46h5.47v1.36h-5.47zM138.55 280.46h1.37v1.36h-1.37zM145.38 280.46h1.37v1.36h-1.37zM149.48 280.46h1.37v1.36h-1.37zM167.25 280.46h21.86v1.36h-21.86zM122.15 281.82h1.37v1.36h-1.37zM126.25 281.82h1.37v1.36h-1.37zM128.99 281.82h1.37v1.36h-1.37zM133.09 281.82h1.37v1.36h-1.37zM138.55 281.82h1.37v1.36h-1.37zM165.88 281.82h17.76v1.36h-17.76zM185.01 281.82h1.37v1.36h-1.37zM120.79 283.18h2.73v1.36h-2.73zM126.25 283.18h1.37v1.36h-1.37zM160.41 283.18h1.37v1.36h-1.37zM165.88 283.18h13.66v1.36h-13.66zM180.91 283.18h2.73v1.36h-2.73zM160.41 284.55h15.03v1.36h-15.03zM178.18 284.55h1.37v1.36h-1.37zM157.68 285.91h10.93v1.36h-10.93zM169.98 285.91h1.37v1.36h-1.37zM154.95 287.27h1.37v1.36h-1.37zM157.68 287.27h9.56v1.36h-9.56zM101.66 288.63h1.37v1.36h-1.37zM146.75 288.63h1.37v1.36h-1.37zM153.58 288.63h2.73v1.36h-2.73zM157.68 288.63h6.83v1.36h-6.83zM101.66 289.99h1.37v1.36h-1.37zM145.38 289.99h2.73v1.36h-2.73zM149.48 289.99h8.20v1.36h-8.20zM159.05 289.99h2.73v1.36h-2.73zM144.02 291.35h9.56v1.36h-9.56zM154.95 291.35h2.73v1.36h-2.73zM134.45 292.72h16.40v1.36h-16.40zM152.22 292.72h2.73v1.36h-2.73zM133.09 294.08h19.13v1.36h-19.13zM133.09 295.44h2.73v1.36h-2.73zM137.19 295.44h4.10v1.36h-4.10zM142.65 295.44h2.73v1.36h-2.73zM96.19 296.80h1.37v1.36h-1.37zM130.35 296.80h6.83v1.36h-6.83zM138.55 296.80h5.47v1.36h-5.47zM131.72 298.16h8.20v1.36h-8.20zM96.19 299.52h1.37v1.36h-1.37zM130.35 299.52h2.73v1.36h-2.73zM134.45 299.52h1.37v1.36h-1.37zM94.83 300.89h1.37v1.36h-1.37zM128.99 300.89h2.73v1.36h-2.73zM94.83 310.42h1.37v1.36h-1.37zM93.46 311.78h2.73v1.36h-2.73zM93.46 313.14h1.37v1.36h-1.37zM118.06 314.50h1.37v1.36h-1.37zM93.46 315.86h1.37v1.36h-1.37zM113.96 317.23h1.37v1.36h-1.37zM116.69 317.23h1.37v1.36h-1.37zM116.69 318.59h1.37v1.36h-1.37zM113.96 319.95h2.73v1.36h-2.73zM93.46 321.31h1.37v1.36h-1.37zM113.96 321.31h1.37v1.36h-1.37zM93.46 322.67h1.37v1.36h-1.37zM112.59 322.67h1.37v1.36h-1.37zM93.46 324.04h1.37v1.36h-1.37zM111.22 324.04h2.73v1.36h-2.73zM93.46 325.40h1.37v1.36h-1.37zM111.22 325.40h1.37v1.36h-1.37zM93.46 326.76h1.37v1.36h-1.37zM92.09 328.12h1.37v1.36h-1.37zM109.86 328.12h4.10v1.36h-4.10zM90.73 329.48h4.10v1.36h-4.10zM111.22 329.48h1.37v1.36h-1.37zM92.09 330.84h2.73v1.36h-2.73zM92.09 332.21h2.73v1.36h-2.73zM107.12 332.21h2.73v1.36h-2.73zM92.09 333.57h1.37v1.36h-1.37zM107.12 333.57h2.73v1.36h-2.73zM92.09 334.93h4.10v1.36h-4.10zM108.49 334.93h1.37v1.36h-1.37zM93.46 336.29h2.73v1.36h-2.73zM97.56 336.29h1.37v1.36h-1.37zM100.29 336.29h1.37v1.36h-1.37zM105.76 336.29h2.73v1.36h-2.73zM92.09 337.65h16.40v1.36h-16.40zM93.46 339.01h12.30v1.36h-12.30zM107.12 339.01h1.37v1.36h-1.37zM93.46 340.38h1.37v1.36h-1.37zM96.19 340.38h4.10v1.36h-4.10zM101.66 340.38h6.83v1.36h-6.83zM96.19 341.74h6.83v1.36h-6.83zM107.12 341.74h1.37v1.36h-1.37zM101.66 343.10h1.37v1.36h-1.37z"/>
<path fill="#3cc6d2" d="M157.68 277.74h5.47v1.36h-5.47zM154.95 279.10h2.73v1.36h-2.73zM159.05 279.10h5.47v1.36h-5.47zM165.88 279.10h2.73v1.36h-2.73zM146.75 280.46h2.73v1.36h-2.73zM130.35 281.82h2.73v1.36h-2.73zM134.45 281.82h4.10v1.36h-4.10zM141.28 281.82h4.10v1.36h-4.10zM149.48 281.82h1.37v1.36h-1.37zM161.78 281.82h1.37v1.36h-1.37zM164.51 281.82h1.37v1.36h-1.37zM123.52 283.18h2.73v1.36h-2.73zM127.62 283.18h4.10v1.36h-4.10zM133.09 283.18h1.37v1.36h-1.37zM137.19 283.18h1.37v1.36h-1.37zM159.05 283.18h1.37v1.36h-1.37zM161.78 283.18h4.10v1.36h-4.10zM115.32 284.55h1.37v1.36h-1.37zM120.79 284.55h1.37v1.36h-1.37zM111.22 285.91h2.73v1.36h-2.73zM115.32 285.91h1.37v1.36h-1.37zM156.31 285.91h1.37v1.36h-1.37zM109.86 287.27h1.37v1.36h-1.37zM148.12 287.27h4.10v1.36h-4.10zM153.58 287.27h1.37v1.36h-1.37zM156.31 287.27h1.37v1.36h-1.37zM104.39 288.63h5.47v1.36h-5.47zM148.12 288.63h1.37v1.36h-1.37zM150.85 288.63h1.37v1.36h-1.37zM103.02 289.99h2.73v1.36h-2.73zM144.02 289.99h1.37v1.36h-1.37zM148.12 289.99h1.37v1.36h-1.37zM100.29 291.35h1.37v1.36h-1.37zM135.82 291.35h4.10v1.36h-4.10zM142.65 291.35h1.37v1.36h-1.37zM97.56 292.72h2.73v1.36h-2.73zM133.09 292.72h1.37v1.36h-1.37zM97.56 294.08h1.37v1.36h-1.37zM131.72 294.08h1.37v1.36h-1.37zM131.72 295.44h1.37v1.36h-1.37zM97.56 296.80h1.37v1.36h-1.37zM128.99 298.16h1.37v1.36h-1.37zM128.99 299.52h1.37v1.36h-1.37zM96.19 300.89h1.37v1.36h-1.37zM127.62 300.89h1.37v1.36h-1.37zM96.19 302.25h1.37v1.36h-1.37zM123.52 303.61h1.37v1.36h-1.37zM94.83 306.33h1.37v1.36h-1.37zM120.79 306.33h1.37v1.36h-1.37zM119.42 307.69h1.37v1.36h-1.37zM118.06 310.42h1.37v1.36h-1.37zM94.83 313.14h1.37v1.36h-1.37zM116.69 313.14h2.73v1.36h-2.73zM94.83 314.50h1.37v1.36h-1.37zM116.69 314.50h1.37v1.36h-1.37zM94.83 315.86h1.37v1.36h-1.37zM115.32 315.86h1.37v1.36h-1.37zM93.46 317.23h1.37v1.36h-1.37zM113.96 318.59h1.37v1.36h-1.37zM94.83 319.95h1.37v1.36h-1.37zM112.59 319.95h1.37v1.36h-1.37zM94.83 321.31h1.37v1.36h-1.37zM112.59 321.31h1.37v1.36h-1.37zM94.83 322.67h1.37v1.36h-1.37zM111.22 322.67h1.37v1.36h-1.37zM109.86 324.04h1.37v1.36h-1.37zM94.83 325.40h1.37v1.36h-1.37zM94.83 326.76h1.37v1.36h-1.37zM109.86 326.76h1.37v1.36h-1.37zM93.46 328.12h1.37v1.36h-1.37zM108.49 328.12h1.37v1.36h-1.37zM109.86 329.48h1.37v1.36h-1.37zM107.12 330.84h2.73v1.36h-2.73zM94.83 333.57h1.37v1.36h-1.37zM105.76 333.57h1.37v1.36h-1.37zM105.76 334.93h1.37v1.36h-1.37zM96.19 336.29h1.37v1.36h-1.37zM98.93 336.29h1.37v1.36h-1.37zM103.02 336.29h2.73v1.36h-2.73z"/>
<path fill="#36e83a" d="M157.68 279.10h1.37v1.36h-1.37zM150.85 280.46h16.40v1.36h-16.40zM145.38 281.82h4.10v1.36h-4.10zM150.85 281.82h10.93v1.36h-10.93zM163.15 281.82h1.37v1.36h-1.37zM131.72 283.18h1.37v1.36h-1.37zM134.45 283.18h2.73v1.36h-2.73zM138.55 283.18h20.50v1.36h-20.50zM118.06 284.55h2.73v1.36h-2.73zM122.15 284.55h38.26v1.36h-38.26zM113.96 285.91h1.37v1.36h-1.37zM116.69 285.91h39.63v1.36h-39.63zM111.22 287.27h36.89v1.36h-36.89zM152.22 287.27h1.37v1.36h-1.37zM109.86 288.63h16.40v1.36h-16.40zM131.72 288.63h15.03v1.36h-15.03zM149.48 288.63h1.37v1.36h-1.37zM105.76 289.99h8.20v1.36h-8.20zM115.32 289.99h1.37v1.36h-1.37zM128.99 289.99h15.03v1.36h-15.03zM101.66 291.35h2.73v1.36h-2.73zM127.62 291.35h8.20v1.36h-8.20zM139.92 291.35h2.73v1.36h-2.73zM100.29 292.72h2.73v1.36h-2.73zM126.25 292.72h6.83v1.36h-6.83zM98.93 294.08h4.10v1.36h-4.10zM126.25 294.08h5.47v1.36h-5.47zM98.93 295.44h4.10v1.36h-4.10zM126.25 295.44h5.47v1.36h-5.47zM98.93 296.80h2.73v1.36h-2.73zM123.52 296.80h6.83v1.36h-6.83zM97.56 298.16h4.10v1.36h-4.10zM122.15 298.16h6.83v1.36h-6.83zM97.56 299.52h5.47v1.36h-5.47zM119.42 299.52h9.56v1.36h-9.56zM97.56 300.89h5.47v1.36h-5.47zM118.06 300.89h8.20v1.36h-8.20zM97.56 302.25h5.47v1.36h-5.47zM116.69 302.25h9.56v1.36h-9.56zM96.19 303.61h6.83v1.36h-6.83zM115.32 303.61h8.20v1.36h-8.20zM96.19 304.97h6.83v1.36h-6.83zM115.32 304.97h8.20v1.36h-8.20zM96.19 306.33h6.83v1.36h-6.83zM115.32 306.33h5.47v1.36h-5.47zM96.19 307.69h6.83v1.36h-6.83zM113.96 307.69h5.47v1.36h-5.47zM96.19 309.06h6.83v1.36h-6.83zM112.59 309.06h8.20v1.36h-8.20zM96.19 310.42h5.47v1.36h-5.47zM112.59 310.42h5.47v1.36h-5.47zM96.19 311.78h5.47v1.36h-5.47zM112.59 311.78h5.47v1.36h-5.47zM96.19 313.14h5.47v1.36h-5.47zM111.22 313.14h5.47v1.36h-5.47zM96.19 314.50h6.83v1.36h-6.83zM111.22 314.50h5.47v1.36h-5.47zM96.19 315.86h6.83v1.36h-6.83zM109.86 315.86h5.47v1.36h-5.47zM94.83 317.23h8.20v1.36h-8.20zM108.49 317.23h5.47v1.36h-5.47zM96.19 318.59h6.83v1.36h-6.83zM108.49 318.59h5.47v1.36h-5.47zM96.19 319.95h5.47v1.36h-5.47zM107.12 319.95h5.47v1.36h-5.47zM96.19 321.31h5.47v1.36h-5.47zM105.76 321.31h6.83v1.36h-6.83zM96.19 322.67h4.10v1.36h-4.10zM105.76 322.67h5.47v1.36h-5.47zM94.83 324.04h5.47v1.36h-5.47zM105.76 324.04h4.10v1.36h-4.10zM96.19 325.40h4.10v1.36h-4.10zM104.39 325.40h6.83v1.36h-6.83zM96.19 326.76h4.10v1.36h-4.10zM104.39 326.76h5.47v1.36h-5.47zM94.83 328.12h4.10v1.36h-4.10zM104.39 328.12h4.10v1.36h-4.10zM94.83 329.48h4.10v1.36h-4.10zM104.39 329.48h5.47v1.36h-5.47zM94.83 330.84h4.10v1.36h-4.10zM103.02 330.84h4.10v1.36h-4.10zM94.83 332.21h12.30v1.36h-12.30zM96.19 333.57h9.56v1.36h-9.56zM96.19 334.93h9.56v1.36h-9.56zM101.66 336.29h1.37v1.36h-1.37z"/>
<path fill="#96ee30" d="M126.25 288.63h5.47v1.36h-5.47zM116.69 289.99h12.30v1.36h-12.30zM118.06 291.35h9.56v1.36h-9.56zM118.06 292.72h8.20v1.36h-8.20zM116.69 294.08h9.56v1.36h-9.56zM116.69 295.44h9.56v1.36h-9.56zM116.69 296.80h6.83v1.36h-6.83zM113.96 298.16h8.20v1.36h-8.20zM112.59 299.52h6.83v1.36h-6.83zM111.22 300.89h6.83v1.36h-6.83zM109.86 302.25h6.83v1.36h-6.83zM103.02 303.61h4.10v1.36h-4.10zM108.49 303.61h6.83v1.36h-6.83zM103.02 304.97h12.30v1.36h-12.30zM103.02 306.33h12.30v1.36h-12.30zM103.02 307.69h10.93v1.36h-10.93zM103.02 309.06h9.56v1.36h-9.56zM101.66 310.42h10.93v1.36h-10.93zM101.66 311.78h10.93v1.36h-10.93zM101.66 313.14h9.56v1.36h-9.56zM103.02 314.50h8.20v1.36h-8.20zM103.02 315.86h6.83v1.36h-6.83zM103.02 317.23h5.47v1.36h-5.47zM103.02 318.59h5.47v1.36h-5.47zM101.66 319.95h5.47v1.36h-5.47zM101.66 321.31h4.10v1.36h-4.10zM100.29 322.67h5.47v1.36h-5.47zM100.29 324.04h5.47v1.36h-5.47zM100.29 325.40h4.10v1.36h-4.10zM100.29 326.76h4.10v1.36h-4.10zM98.93 328.12h5.47v1.36h-5.47zM98.93 329.48h5.47v1.36h-5.47zM98.93 330.84h4.10v1.36h-4.10z"/>
<path fill="#d2ea28" d="M113.96 289.99h1.37v1.36h-1.37zM104.39 291.35h4.10v1.36h-4.10zM111.22 291.35h1.37v1.36h-1.37zM113.96 291.35h4.10v1.36h-4.10zM103.02 292.72h1.37v1.36h-1.37zM116.69 292.72h1.37v1.36h-1.37zM103.02 294.08h1.37v1.36h-1.37zM115.32 294.08h1.37v1.36h-1.37zM113.96 295.44h2.73v1.36h-2.73zM101.66 296.80h1.37v1.36h-1.37zM113.96 296.80h2.73v1.36h-2.73zM101.66 298.16h1.37v1.36h-1.37zM112.59 298.16h1.37v1.36h-1.37zM103.02 299.52h1.37v1.36h-1.37zM111.22 299.52h1.37v1.36h-1.37zM103.02 300.89h1.37v1.36h-1.37zM108.49 300.89h2.73v1.36h-2.73zM103.02 302.25h2.73v1.36h-2.73zM107.12 302.25h2.73v1.36h-2.73zM107.12 303.61h1.37v1.36h-1.37z"/>
<path fill="#ee2222" d="M108.49 291.35h2.73v1.36h-2.73zM112.59 291.35h1.37v1.36h-1.37zM104.39 292.72h12.30v1.36h-12.30zM104.39 294.08h10.93v1.36h-10.93zM103.02 295.44h10.93v1.36h-10.93zM103.02 296.80h10.93v1.36h-10.93zM103.02 298.16h9.56v1.36h-9.56zM104.39 299.52h6.83v1.36h-6.83zM104.39 300.89h4.10v1.36h-4.10zM105.76 302.25h1.37v1.36h-1.37z"/>
<path fill="#1a2ab4" d="M438.22 58.13h1.37v1.36h-1.37zM432.74 59.49h2.74v1.36h-2.74zM438.22 59.49h1.37v1.36h-1.37zM442.32 59.49h2.74v1.36h-2.74zM413.59 60.85h1.37v1.36h-1.37zM416.33 60.85h5.47v1.36h-5.47zM424.54 60.85h1.37v1.36h-1.37zM430.01 60.85h1.37v1.36h-1.37zM443.69 60.85h5.47v1.36h-5.47zM398.55 62.21h1.37v1.36h-1.37zM401.28 62.21h5.47v1.36h-5.47zM409.49 62.21h1.37v1.36h-1.37zM412.23 62.21h1.37v1.36h-1.37zM416.33 62.21h1.37v1.36h-1.37zM419.06 62.21h1.37v1.36h-1.37zM435.48 62.21h1.37v1.36h-1.37zM388.97 63.58h8.21v1.36h-8.21zM435.48 63.58h1.37v1.36h-1.37zM375.29 64.94h1.37v1.36h-1.37zM378.03 64.94h1.37v1.36h-1.37zM386.23 64.94h2.74v1.36h-2.74zM390.34 64.94h1.37v1.36h-1.37zM434.11 64.94h1.37v1.36h-1.37zM443.69 64.94h1.37v1.36h-1.37zM449.16 64.94h1.37v1.36h-1.37zM369.82 66.30h6.84v1.36h-6.84zM430.01 66.30h1.37v1.36h-1.37zM432.74 66.30h2.74v1.36h-2.74zM436.85 66.30h1.37v1.36h-1.37zM368.45 67.66h2.74v1.36h-2.74zM431.38 67.66h1.37v1.36h-1.37zM435.48 67.66h1.37v1.36h-1.37zM365.71 69.02h2.74v1.36h-2.74zM425.90 69.02h1.37v1.36h-1.37zM432.74 69.02h2.74v1.36h-2.74zM436.85 69.02h1.37v1.36h-1.37zM362.98 70.38h1.37v1.36h-1.37zM414.96 70.38h1.37v1.36h-1.37zM417.70 70.38h1.37v1.36h-1.37zM424.54 70.38h1.37v1.36h-1.37zM432.74 70.38h2.74v1.36h-2.74zM358.87 71.75h2.74v1.36h-2.74zM408.12 71.75h2.74v1.36h-2.74zM424.54 71.75h1.37v1.36h-1.37zM399.91 73.11h2.74v1.36h-2.74zM405.39 73.11h1.37v1.36h-1.37zM353.40 74.47h1.37v1.36h-1.37zM398.55 74.47h2.74v1.36h-2.74zM414.96 74.47h1.37v1.36h-1.37zM353.40 75.83h1.37v1.36h-1.37zM391.71 75.83h1.37v1.36h-1.37zM397.18 75.83h1.37v1.36h-1.37zM413.59 75.83h4.10v1.36h-4.10zM383.50 77.19h1.37v1.36h-1.37zM387.60 77.19h1.37v1.36h-1.37zM399.91 77.19h1.37v1.36h-1.37zM380.76 78.55h2.74v1.36h-2.74zM414.96 78.55h1.37v1.36h-1.37zM343.83 79.92h2.74v1.36h-2.74zM379.39 79.92h1.37v1.36h-1.37zM393.07 79.92h1.37v1.36h-1.37zM343.83 81.28h1.37v1.36h-1.37zM371.19 81.28h1.37v1.36h-1.37zM343.83 82.64h1.37v1.36h-1.37zM369.82 82.64h1.37v1.36h-1.37zM362.98 84.00h5.47v1.36h-5.47zM395.81 84.00h1.37v1.36h-1.37zM331.51 85.36h4.10v1.36h-4.10zM338.35 85.36h1.37v1.36h-1.37zM341.09 85.36h1.37v1.36h-1.37zM361.61 85.36h4.10v1.36h-4.10zM373.92 85.36h1.37v1.36h-1.37zM376.66 85.36h1.37v1.36h-1.37zM324.67 86.72h1.37v1.36h-1.37zM358.87 86.72h4.10v1.36h-4.10zM321.94 88.09h1.37v1.36h-1.37zM354.77 88.09h1.37v1.36h-1.37zM361.61 88.09h1.37v1.36h-1.37zM369.82 88.09h1.37v1.36h-1.37zM319.20 89.45h1.37v1.36h-1.37zM369.82 89.45h1.37v1.36h-1.37zM317.84 90.81h1.37v1.36h-1.37zM352.03 90.81h1.37v1.36h-1.37zM315.10 92.17h4.10v1.36h-4.10zM350.67 92.17h1.37v1.36h-1.37zM347.93 93.53h2.74v1.36h-2.74zM313.73 94.89h2.74v1.36h-2.74zM350.67 94.89h1.37v1.36h-1.37zM313.73 96.26h1.37v1.36h-1.37zM343.83 96.26h1.37v1.36h-1.37zM352.03 96.26h1.37v1.36h-1.37zM312.36 97.62h1.37v1.36h-1.37zM343.83 97.62h2.74v1.36h-2.74zM312.36 98.98h1.37v1.36h-1.37zM342.46 98.98h1.37v1.36h-1.37zM312.36 100.34h1.37v1.36h-1.37zM341.09 100.34h1.37v1.36h-1.37zM312.36 101.70h1.37v1.36h-1.37zM342.46 101.70h1.37v1.36h-1.37zM312.36 104.43h1.37v1.36h-1.37zM341.09 104.43h1.37v1.36h-1.37zM311.00 105.79h2.74v1.36h-2.74zM339.72 105.79h1.37v1.36h-1.37zM311.00 107.15h1.37v1.36h-1.37zM339.72 107.15h1.37v1.36h-1.37zM309.63 108.51h2.74v1.36h-2.74zM338.35 108.51h1.37v1.36h-1.37zM342.46 108.51h1.37v1.36h-1.37zM336.99 109.87h1.37v1.36h-1.37zM339.72 109.87h1.37v1.36h-1.37zM338.35 112.60h1.37v1.36h-1.37zM331.51 113.96h1.37v1.36h-1.37zM309.63 115.32h1.37v1.36h-1.37zM338.35 115.32h1.37v1.36h-1.37zM331.51 116.68h1.37v1.36h-1.37zM339.72 116.68h1.37v1.36h-1.37zM308.26 118.04h1.37v1.36h-1.37zM330.15 118.04h1.37v1.36h-1.37zM308.26 119.41h1.37v1.36h-1.37zM306.89 120.77h1.37v1.36h-1.37zM306.89 122.13h1.37v1.36h-1.37zM331.51 123.49h1.37v1.36h-1.37zM331.51 124.85h1.37v1.36h-1.37zM308.26 126.21h1.37v1.36h-1.37zM331.51 126.21h1.37v1.36h-1.37zM308.26 127.58h1.37v1.36h-1.37zM330.15 127.58h1.37v1.36h-1.37zM313.73 134.38h1.37v1.36h-1.37zM316.47 134.38h2.74v1.36h-2.74zM330.15 134.38h1.37v1.36h-1.37zM315.10 135.75h1.37v1.36h-1.37zM328.78 135.75h1.37v1.36h-1.37zM317.84 137.11h1.37v1.36h-1.37zM327.41 137.11h2.74v1.36h-2.74z"/>
<path fill="#2452ee" d="M428.64 59.49h1.37v1.36h-1.37zM421.80 60.85h2.74v1.36h-2.74zM427.27 60.85h2.74v1.36h-2.74zM450.53 60.85h1.37v1.36h-1.37zM408.12 62.21h1.37v1.36h-1.37zM410.86 62.21h1.37v1.36h-1.37zM413.59 62.21h2.74v1.36h-2.74zM417.70 62.21h1.37v1.36h-1.37zM421.80 62.21h1.37v1.36h-1.37zM425.90 62.21h1.37v1.36h-1.37zM430.01 62.21h5.47v1.36h-5.47zM384.87 63.58h4.10v1.36h-4.10zM397.18 63.58h4.10v1.36h-4.10zM402.65 63.58h2.74v1.36h-2.74zM408.12 63.58h2.74v1.36h-2.74zM413.59 63.58h1.37v1.36h-1.37zM416.33 63.58h5.47v1.36h-5.47zM423.17 63.58h1.37v1.36h-1.37zM427.27 63.58h1.37v1.36h-1.37zM379.39 64.94h6.84v1.36h-6.84zM388.97 64.94h1.37v1.36h-1.37zM391.71 64.94h1.37v1.36h-1.37zM395.81 64.94h4.10v1.36h-4.10zM401.28 64.94h1.37v1.36h-1.37zM405.39 64.94h1.37v1.36h-1.37zM409.49 64.94h1.37v1.36h-1.37zM414.96 64.94h2.74v1.36h-2.74zM419.06 64.94h1.37v1.36h-1.37zM435.48 64.94h4.10v1.36h-4.10zM376.66 66.30h8.21v1.36h-8.21zM387.60 66.30h2.74v1.36h-2.74zM397.18 66.30h1.37v1.36h-1.37zM399.91 66.30h1.37v1.36h-1.37zM404.02 66.30h1.37v1.36h-1.37zM410.86 66.30h1.37v1.36h-1.37zM420.43 66.30h1.37v1.36h-1.37zM428.64 66.30h1.37v1.36h-1.37zM431.38 66.30h1.37v1.36h-1.37zM435.48 66.30h1.37v1.36h-1.37zM371.19 67.66h6.84v1.36h-6.84zM379.39 67.66h1.37v1.36h-1.37zM384.87 67.66h4.10v1.36h-4.10zM412.23 67.66h1.37v1.36h-1.37zM416.33 67.66h1.37v1.36h-1.37zM420.43 67.66h2.74v1.36h-2.74zM424.54 67.66h2.74v1.36h-2.74zM428.64 67.66h2.74v1.36h-2.74zM436.85 67.66h1.37v1.36h-1.37zM368.45 69.02h1.37v1.36h-1.37zM371.19 69.02h2.74v1.36h-2.74zM375.29 69.02h1.37v1.36h-1.37zM382.13 69.02h1.37v1.36h-1.37zM416.33 69.02h2.74v1.36h-2.74zM420.43 69.02h5.47v1.36h-5.47zM358.87 70.38h1.37v1.36h-1.37zM365.71 70.38h4.10v1.36h-4.10zM379.39 70.38h1.37v1.36h-1.37zM399.91 70.38h8.21v1.36h-8.21zM410.86 70.38h4.10v1.36h-4.10zM416.33 70.38h1.37v1.36h-1.37zM419.06 70.38h1.37v1.36h-1.37zM421.80 70.38h1.37v1.36h-1.37zM361.61 71.75h1.37v1.36h-1.37zM365.71 71.75h1.37v1.36h-1.37zM368.45 71.75h1.37v1.36h-1.37zM375.29 71.75h1.37v1.36h-1.37zM401.28 71.75h6.84v1.36h-6.84zM410.86 71.75h1.37v1.36h-1.37zM358.87 73.11h5.47v1.36h-5.47zM404.02 73.11h1.37v1.36h-1.37zM354.77 74.47h2.74v1.36h-2.74zM358.87 74.47h2.74v1.36h-2.74zM391.71 74.47h4.10v1.36h-4.10zM401.28 74.47h1.37v1.36h-1.37zM354.77 75.83h2.74v1.36h-2.74zM383.50 75.83h1.37v1.36h-1.37zM386.23 75.83h5.47v1.36h-5.47zM393.07 75.83h1.37v1.36h-1.37zM352.03 77.19h4.10v1.36h-4.10zM384.87 77.19h2.74v1.36h-2.74zM349.30 78.55h5.47v1.36h-5.47zM356.14 78.55h1.37v1.36h-1.37zM378.03 78.55h1.37v1.36h-1.37zM383.50 78.55h1.37v1.36h-1.37zM347.93 79.92h4.10v1.36h-4.10zM372.55 79.92h1.37v1.36h-1.37zM375.29 79.92h4.10v1.36h-4.10zM346.56 81.28h1.37v1.36h-1.37zM352.03 81.28h1.37v1.36h-1.37zM356.14 81.28h1.37v1.36h-1.37zM372.55 81.28h4.10v1.36h-4.10zM345.19 82.64h1.37v1.36h-1.37zM350.67 82.64h1.37v1.36h-1.37zM357.51 82.64h1.37v1.36h-1.37zM364.35 82.64h1.37v1.36h-1.37zM367.08 82.64h2.74v1.36h-2.74zM341.09 84.00h4.10v1.36h-4.10zM354.77 84.00h2.74v1.36h-2.74zM361.61 84.00h1.37v1.36h-1.37zM397.18 84.00h1.37v1.36h-1.37zM339.72 85.36h1.37v1.36h-1.37zM342.46 85.36h1.37v1.36h-1.37zM346.56 85.36h1.37v1.36h-1.37zM354.77 85.36h1.37v1.36h-1.37zM357.51 85.36h4.10v1.36h-4.10zM328.78 86.72h15.05v1.36h-15.05zM349.30 86.72h2.74v1.36h-2.74zM354.77 86.72h4.10v1.36h-4.10zM324.67 88.09h2.74v1.36h-2.74zM330.15 88.09h1.37v1.36h-1.37zM332.88 88.09h1.37v1.36h-1.37zM335.62 88.09h1.37v1.36h-1.37zM352.03 88.09h2.74v1.36h-2.74zM320.57 89.45h2.74v1.36h-2.74zM335.62 89.45h1.37v1.36h-1.37zM338.35 89.45h1.37v1.36h-1.37zM345.19 89.45h2.74v1.36h-2.74zM349.30 89.45h4.10v1.36h-4.10zM319.20 90.81h2.74v1.36h-2.74zM343.83 90.81h1.37v1.36h-1.37zM350.67 90.81h1.37v1.36h-1.37zM349.30 92.17h1.37v1.36h-1.37zM317.84 93.53h1.37v1.36h-1.37zM343.83 93.53h4.10v1.36h-4.10zM345.19 94.89h1.37v1.36h-1.37zM342.46 96.26h1.37v1.36h-1.37zM313.73 97.62h1.37v1.36h-1.37zM342.46 97.62h1.37v1.36h-1.37zM313.73 98.98h1.37v1.36h-1.37zM313.73 100.34h1.37v1.36h-1.37zM339.72 100.34h1.37v1.36h-1.37zM313.73 101.70h1.37v1.36h-1.37zM341.09 101.70h1.37v1.36h-1.37zM343.83 101.70h1.37v1.36h-1.37zM312.36 103.06h1.37v1.36h-1.37zM339.72 103.06h4.10v1.36h-4.10zM339.72 104.43h1.37v1.36h-1.37zM312.36 107.15h1.37v1.36h-1.37zM335.62 107.15h1.37v1.36h-1.37zM338.35 107.15h1.37v1.36h-1.37zM312.36 108.51h1.37v1.36h-1.37zM335.62 108.51h2.74v1.36h-2.74zM339.72 108.51h1.37v1.36h-1.37zM311.00 109.87h1.37v1.36h-1.37zM334.25 109.87h2.74v1.36h-2.74zM338.35 109.87h1.37v1.36h-1.37zM311.00 111.24h2.74v1.36h-2.74zM332.88 111.24h2.74v1.36h-2.74zM311.00 112.60h2.74v1.36h-2.74zM308.26 113.96h1.37v1.36h-1.37zM311.00 113.96h2.74v1.36h-2.74zM311.00 115.32h1.37v1.36h-1.37zM328.78 115.32h1.37v1.36h-1.37zM309.63 116.68h2.74v1.36h-2.74zM328.78 116.68h2.74v1.36h-2.74zM309.63 118.04h1.37v1.36h-1.37zM328.78 118.04h1.37v1.36h-1.37zM328.78 119.41h2.74v1.36h-2.74zM308.26 120.77h1.37v1.36h-1.37zM330.15 120.77h1.37v1.36h-1.37zM308.26 122.13h1.37v1.36h-1.37zM330.15 122.13h1.37v1.36h-1.37zM308.26 123.49h2.74v1.36h-2.74zM328.78 123.49h2.74v1.36h-2.74zM308.26 124.85h2.74v1.36h-2.74zM330.15 124.85h1.37v1.36h-1.37zM309.63 126.21h1.37v1.36h-1.37zM328.78 126.21h2.74v1.36h-2.74zM309.63 127.58h2.74v1.36h-2.74zM309.63 128.94h1.37v1.36h-1.37zM330.15 130.30h1.37v1.36h-1.37zM312.36 131.66h1.37v1.36h-1.37zM315.10 131.66h1.37v1.36h-1.37zM324.67 131.66h1.37v1.36h-1.37zM328.78 131.66h1.37v1.36h-1.37zM331.51 131.66h1.37v1.36h-1.37zM313.73 133.02h2.74v1.36h-2.74zM317.84 133.02h1.37v1.36h-1.37zM324.67 133.02h1.37v1.36h-1.37zM328.78 133.02h1.37v1.36h-1.37zM331.51 133.02h1.37v1.36h-1.37zM319.20 134.38h2.74v1.36h-2.74zM323.31 134.38h2.74v1.36h-2.74zM327.41 134.38h1.37v1.36h-1.37zM321.94 135.75h5.47v1.36h-5.47zM326.04 137.11h1.37v1.36h-1.37z"/>
<path fill="#4cacf4" d="M425.90 60.85h1.37v1.36h-1.37zM420.43 62.21h1.37v1.36h-1.37zM423.17 62.21h2.74v1.36h-2.74zM427.27 62.21h2.74v1.36h-2.74zM401.28 63.58h1.37v1.36h-1.37zM405.39 63.58h2.74v1.36h-2.74zM410.86 63.58h2.74v1.36h-2.74zM414.96 63.58h1.37v1.36h-1.37zM421.80 63.58h1.37v1.36h-1.37zM424.54 63.58h2.74v1.36h-2.74zM428.64 63.58h6.84v1.36h-6.84zM393.07 64.94h2.74v1.36h-2.74zM399.91 64.94h1.37v1.36h-1.37zM402.65 64.94h2.74v1.36h-2.74zM406.75 64.94h2.74v1.36h-2.74zM410.86 64.94h4.10v1.36h-4.10zM417.70 64.94h1.37v1.36h-1.37zM420.43 64.94h13.68v1.36h-13.68zM384.87 66.30h2.74v1.36h-2.74zM390.34 66.30h1.37v1.36h-1.37zM398.55 66.30h1.37v1.36h-1.37zM401.28 66.30h2.74v1.36h-2.74zM405.39 66.30h5.47v1.36h-5.47zM412.23 66.30h8.21v1.36h-8.21zM421.80 66.30h6.84v1.36h-6.84zM378.03 67.66h1.37v1.36h-1.37zM380.76 67.66h4.10v1.36h-4.10zM388.97 67.66h2.74v1.36h-2.74zM398.55 67.66h1.37v1.36h-1.37zM401.28 67.66h10.94v1.36h-10.94zM413.59 67.66h2.74v1.36h-2.74zM417.70 67.66h2.74v1.36h-2.74zM423.17 67.66h1.37v1.36h-1.37zM427.27 67.66h1.37v1.36h-1.37zM369.82 69.02h1.37v1.36h-1.37zM373.92 69.02h1.37v1.36h-1.37zM376.66 69.02h5.47v1.36h-5.47zM383.50 69.02h4.10v1.36h-4.10zM399.91 69.02h16.42v1.36h-16.42zM419.06 69.02h1.37v1.36h-1.37zM364.35 70.38h1.37v1.36h-1.37zM369.82 70.38h9.58v1.36h-9.58zM382.13 70.38h1.37v1.36h-1.37zM408.12 70.38h2.74v1.36h-2.74zM362.98 71.75h2.74v1.36h-2.74zM367.08 71.75h1.37v1.36h-1.37zM369.82 71.75h5.47v1.36h-5.47zM398.55 71.75h2.74v1.36h-2.74zM364.35 73.11h5.47v1.36h-5.47zM372.55 73.11h1.37v1.36h-1.37zM398.55 73.11h1.37v1.36h-1.37zM357.51 74.47h1.37v1.36h-1.37zM361.61 74.47h4.10v1.36h-4.10zM388.97 74.47h2.74v1.36h-2.74zM395.81 74.47h2.74v1.36h-2.74zM357.51 75.83h5.47v1.36h-5.47zM384.87 75.83h1.37v1.36h-1.37zM356.14 77.19h4.10v1.36h-4.10zM354.77 78.55h1.37v1.36h-1.37zM375.29 78.55h1.37v1.36h-1.37zM352.03 79.92h5.47v1.36h-5.47zM371.19 79.92h1.37v1.36h-1.37zM347.93 81.28h4.10v1.36h-4.10zM353.40 81.28h2.74v1.36h-2.74zM357.51 81.28h2.74v1.36h-2.74zM362.98 81.28h1.37v1.36h-1.37zM369.82 81.28h1.37v1.36h-1.37zM346.56 82.64h4.10v1.36h-4.10zM352.03 82.64h5.47v1.36h-5.47zM358.87 82.64h1.37v1.36h-1.37zM361.61 82.64h1.37v1.36h-1.37zM365.71 82.64h1.37v1.36h-1.37zM371.19 82.64h1.37v1.36h-1.37zM345.19 84.00h9.58v1.36h-9.58zM357.51 84.00h4.10v1.36h-4.10zM343.83 85.36h2.74v1.36h-2.74zM347.93 85.36h6.84v1.36h-6.84zM356.14 85.36h1.37v1.36h-1.37zM343.83 86.72h5.47v1.36h-5.47zM352.03 86.72h2.74v1.36h-2.74zM327.41 88.09h2.74v1.36h-2.74zM331.51 88.09h1.37v1.36h-1.37zM334.25 88.09h1.37v1.36h-1.37zM336.99 88.09h15.05v1.36h-15.05zM323.31 89.45h2.74v1.36h-2.74zM327.41 89.45h1.37v1.36h-1.37zM336.99 89.45h1.37v1.36h-1.37zM339.72 89.45h5.47v1.36h-5.47zM347.93 89.45h1.37v1.36h-1.37zM326.04 90.81h2.74v1.36h-2.74zM336.99 90.81h1.37v1.36h-1.37zM341.09 90.81h2.74v1.36h-2.74zM345.19 90.81h5.47v1.36h-5.47zM341.09 92.17h8.21v1.36h-8.21zM316.47 93.53h1.37v1.36h-1.37zM341.09 93.53h2.74v1.36h-2.74zM316.47 94.89h1.37v1.36h-1.37zM341.09 94.89h4.10v1.36h-4.10zM315.10 96.26h1.37v1.36h-1.37zM341.09 98.98h1.37v1.36h-1.37zM339.72 101.70h1.37v1.36h-1.37zM338.35 104.43h1.37v1.36h-1.37zM336.99 105.79h2.74v1.36h-2.74zM336.99 107.15h1.37v1.36h-1.37zM309.63 120.77h1.37v1.36h-1.37zM309.63 122.13h2.74v1.36h-2.74zM311.00 124.85h1.37v1.36h-1.37zM328.78 124.85h1.37v1.36h-1.37zM311.00 126.21h4.10v1.36h-4.10zM312.36 127.58h1.37v1.36h-1.37zM311.00 128.94h4.10v1.36h-4.10zM327.41 128.94h4.10v1.36h-4.10zM311.00 130.30h6.84v1.36h-6.84zM321.94 130.30h4.10v1.36h-4.10zM328.78 130.30h1.37v1.36h-1.37zM313.73 131.66h1.37v1.36h-1.37zM316.47 131.66h8.21v1.36h-8.21zM326.04 131.66h2.74v1.36h-2.74zM330.15 131.66h1.37v1.36h-1.37zM316.47 133.02h1.37v1.36h-1.37zM319.20 133.02h5.47v1.36h-5.47zM326.04 133.02h2.74v1.36h-2.74zM330.15 133.02h1.37v1.36h-1.37zM321.94 134.38h1.37v1.36h-1.37zM326.04 134.38h1.37v1.36h-1.37zM328.78 134.38h1.37v1.36h-1.37zM327.41 135.75h1.37v1.36h-1.37z"/>
<path fill="#3cc6d2" d="M391.71 66.30h5.47v1.36h-5.47zM391.71 67.66h4.10v1.36h-4.10zM397.18 67.66h1.37v1.36h-1.37zM399.91 67.66h1.37v1.36h-1.37zM387.60 69.02h2.74v1.36h-2.74zM397.18 69.02h2.74v1.36h-2.74zM380.76 70.38h1.37v1.36h-1.37zM383.50 70.38h5.47v1.36h-5.47zM397.18 70.38h2.74v1.36h-2.74zM376.66 71.75h13.68v1.36h-13.68zM394.44 71.75h1.37v1.36h-1.37zM397.18 71.75h1.37v1.36h-1.37zM369.82 73.11h2.74v1.36h-2.74zM373.92 73.11h20.52v1.36h-20.52zM395.81 73.11h2.74v1.36h-2.74zM365.71 74.47h23.26v1.36h-23.26zM362.98 75.83h20.52v1.36h-20.52zM360.24 77.19h23.26v1.36h-23.26zM357.51 78.55h17.78v1.36h-17.78zM376.66 78.55h1.37v1.36h-1.37zM379.39 78.55h1.37v1.36h-1.37zM357.51 79.92h13.68v1.36h-13.68zM373.92 79.92h1.37v1.36h-1.37zM360.24 81.28h2.74v1.36h-2.74zM364.35 81.28h5.47v1.36h-5.47zM360.24 82.64h1.37v1.36h-1.37zM362.98 82.64h1.37v1.36h-1.37zM326.04 89.45h1.37v1.36h-1.37zM328.78 89.45h6.84v1.36h-6.84zM321.94 90.81h4.10v1.36h-4.10zM328.78 90.81h1.37v1.36h-1.37zM332.88 90.81h1.37v1.36h-1.37zM335.62 90.81h1.37v1.36h-1.37zM338.35 90.81h2.74v1.36h-2.74zM319.20 92.17h4.10v1.36h-4.10zM324.67 92.17h1.37v1.36h-1.37zM338.35 92.17h2.74v1.36h-2.74zM339.72 93.53h1.37v1.36h-1.37zM339.72 96.26h2.74v1.36h-2.74zM315.10 97.62h1.37v1.36h-1.37zM339.72 97.62h2.74v1.36h-2.74zM315.10 98.98h1.37v1.36h-1.37zM339.72 98.98h1.37v1.36h-1.37zM315.10 100.34h1.37v1.36h-1.37zM338.35 100.34h1.37v1.36h-1.37zM338.35 101.70h1.37v1.36h-1.37zM336.99 104.43h1.37v1.36h-1.37zM335.62 105.79h1.37v1.36h-1.37zM334.25 107.15h1.37v1.36h-1.37zM334.25 108.51h1.37v1.36h-1.37zM312.36 109.87h1.37v1.36h-1.37zM332.88 109.87h1.37v1.36h-1.37zM311.00 118.04h1.37v1.36h-1.37zM309.63 119.41h2.74v1.36h-2.74zM311.00 120.77h2.74v1.36h-2.74zM328.78 120.77h1.37v1.36h-1.37zM312.36 122.13h1.37v1.36h-1.37zM311.00 123.49h2.74v1.36h-2.74zM312.36 124.85h1.37v1.36h-1.37zM313.73 127.58h2.74v1.36h-2.74zM327.41 127.58h2.74v1.36h-2.74zM315.10 128.94h2.74v1.36h-2.74zM324.67 128.94h2.74v1.36h-2.74zM317.84 130.30h4.10v1.36h-4.10zM326.04 130.30h2.74v1.36h-2.74z"/>
<path fill="#36e83a" d="M395.81 67.66h1.37v1.36h-1.37zM390.34 69.02h6.84v1.36h-6.84zM388.97 70.38h8.21v1.36h-8.21zM390.34 71.75h4.10v1.36h-4.10zM395.81 71.75h1.37v1.36h-1.37zM394.44 73.11h1.37v1.36h-1.37zM330.15 90.81h2.74v1.36h-2.74zM334.25 90.81h1.37v1.36h-1.37zM323.31 92.17h1.37v1.36h-1.37zM326.04 92.17h12.31v1.36h-12.31zM319.20 93.53h20.52v1.36h-20.52zM317.84 94.89h8.21v1.36h-8.21zM335.62 94.89h5.47v1.36h-5.47zM316.47 96.26h6.84v1.36h-6.84zM335.62 96.26h4.10v1.36h-4.10zM316.47 97.62h5.47v1.36h-5.47zM335.62 97.62h4.10v1.36h-4.10zM316.47 98.98h4.10v1.36h-4.10zM335.62 98.98h4.10v1.36h-4.10zM316.47 100.34h2.74v1.36h-2.74zM334.25 100.34h4.10v1.36h-4.10zM315.10 101.70h4.10v1.36h-4.10zM332.88 101.70h5.47v1.36h-5.47zM313.73 103.06h4.10v1.36h-4.10zM332.88 103.06h6.84v1.36h-6.84zM313.73 104.43h4.10v1.36h-4.10zM332.88 104.43h4.10v1.36h-4.10zM313.73 105.79h2.74v1.36h-2.74zM332.88 105.79h2.74v1.36h-2.74zM313.73 107.15h2.74v1.36h-2.74zM332.88 107.15h1.37v1.36h-1.37zM313.73 108.51h2.74v1.36h-2.74zM331.51 108.51h2.74v1.36h-2.74zM313.73 109.87h2.74v1.36h-2.74zM330.15 109.87h2.74v1.36h-2.74zM313.73 111.24h2.74v1.36h-2.74zM330.15 111.24h2.74v1.36h-2.74zM313.73 112.60h2.74v1.36h-2.74zM330.15 112.60h2.74v1.36h-2.74zM313.73 113.96h2.74v1.36h-2.74zM327.41 113.96h4.10v1.36h-4.10zM312.36 115.32h4.10v1.36h-4.10zM326.04 115.32h2.74v1.36h-2.74zM312.36 116.68h4.10v1.36h-4.10zM326.04 116.68h2.74v1.36h-2.74zM312.36 118.04h4.10v1.36h-4.10zM324.67 118.04h4.10v1.36h-4.10zM312.36 119.41h4.10v1.36h-4.10zM324.67 119.41h4.10v1.36h-4.10zM313.73 120.77h1.37v1.36h-1.37zM324.67 120.77h4.10v1.36h-4.10zM313.73 122.13h2.74v1.36h-2.74zM324.67 122.13h5.47v1.36h-5.47zM313.73 123.49h5.47v1.36h-5.47zM324.67 123.49h4.10v1.36h-4.10zM313.73 124.85h6.84v1.36h-6.84zM324.67 124.85h4.10v1.36h-4.10zM315.10 126.21h13.68v1.36h-13.68zM316.47 127.58h10.94v1.36h-10.94zM317.84 128.94h6.84v1.36h-6.84z"/>
<path fill="#96ee30" d="M326.04 94.89h9.58v1.36h-9.58zM323.31 96.26h2.74v1.36h-2.74zM327.41 96.26h8.21v1.36h-8.21zM321.94 97.62h2.74v1.36h-2.74zM331.51 97.62h4.10v1.36h-4.10zM320.57 98.98h2.74v1.36h-2.74zM331.51 98.98h4.10v1.36h-4.10zM331.51 100.34h2.74v1.36h-2.74zM316.47 112.60h1.37v1.36h-1.37zM316.47 113.96h1.37v1.36h-1.37zM326.04 113.96h1.37v1.36h-1.37zM316.47 115.32h2.74v1.36h-2.74zM324.67 115.32h1.37v1.36h-1.37zM316.47 116.68h9.58v1.36h-9.58zM316.47 118.04h8.21v1.36h-8.21zM316.47 119.41h8.21v1.36h-8.21zM315.10 120.77h9.58v1.36h-9.58zM316.47 122.13h8.21v1.36h-8.21zM319.20 123.49h5.47v1.36h-5.47zM320.57 124.85h4.10v1.36h-4.10z"/>
<path fill="#d2ea28" d="M326.04 96.26h1.37v1.36h-1.37zM324.67 97.62h6.84v1.36h-6.84zM323.31 98.98h1.37v1.36h-1.37zM330.15 98.98h1.37v1.36h-1.37zM319.20 100.34h4.10v1.36h-4.10zM319.20 101.70h1.37v1.36h-1.37zM331.51 101.70h1.37v1.36h-1.37zM317.84 103.06h1.37v1.36h-1.37zM331.51 103.06h1.37v1.36h-1.37zM317.84 104.43h1.37v1.36h-1.37zM331.51 104.43h1.37v1.36h-1.37zM316.47 105.79h2.74v1.36h-2.74zM331.51 105.79h1.37v1.36h-1.37zM316.47 107.15h1.37v1.36h-1.37zM331.51 107.15h1.37v1.36h-1.37zM316.47 108.51h1.37v1.36h-1.37zM330.15 108.51h1.37v1.36h-1.37zM316.47 109.87h1.37v1.36h-1.37zM328.78 109.87h1.37v1.36h-1.37zM316.47 111.24h1.37v1.36h-1.37zM328.78 111.24h1.37v1.36h-1.37zM317.84 112.60h1.37v1.36h-1.37zM326.04 112.60h4.10v1.36h-4.10zM317.84 113.96h2.74v1.36h-2.74zM323.31 113.96h2.74v1.36h-2.74zM319.20 115.32h5.47v1.36h-5.47z"/>
<path fill="#ee2222" d="M324.67 98.98h5.47v1.36h-5.47zM323.31 100.34h8.21v1.36h-8.21zM320.57 101.70h10.94v1.36h-10.94zM319.20 103.06h12.31v1.36h-12.31zM319.20 104.43h12.31v1.36h-12.31zM319.20 105.79h12.31v1.36h-12.31zM317.84 107.15h13.68v1.36h-13.68zM317.84 108.51h12.31v1.36h-12.31zM317.84 109.87h10.94v1.36h-10.94zM317.84 111.24h10.94v1.36h-10.94zM319.20 112.60h6.84v1.36h-6.84zM320.57 113.96h2.74v1.36h-2.74z"/>
<path fill="#1a2ab4" d="M430.01 265.48h1.37v1.36h-1.37zM440.95 265.48h1.37v1.36h-1.37zM438.22 266.84h5.47v1.36h-5.47zM431.38 268.20h1.37v1.36h-1.37zM442.32 268.20h1.37v1.36h-1.37zM438.22 269.57h2.74v1.36h-2.74zM443.69 269.57h1.37v1.36h-1.37zM397.18 270.93h1.37v1.36h-1.37zM402.65 270.93h1.37v1.36h-1.37zM438.22 270.93h1.37v1.36h-1.37zM440.95 270.93h1.37v1.36h-1.37zM443.69 270.93h1.37v1.36h-1.37zM387.60 272.29h1.37v1.36h-1.37zM394.44 272.29h1.37v1.36h-1.37zM397.18 272.29h1.37v1.36h-1.37zM401.28 272.29h2.74v1.36h-2.74zM408.12 272.29h1.37v1.36h-1.37zM413.59 272.29h5.47v1.36h-5.47zM421.80 272.29h5.47v1.36h-5.47zM432.74 272.29h4.10v1.36h-4.10zM438.22 272.29h1.37v1.36h-1.37zM383.50 273.65h1.37v1.36h-1.37zM387.60 273.65h1.37v1.36h-1.37zM394.44 273.65h1.37v1.36h-1.37zM397.18 273.65h1.37v1.36h-1.37zM405.39 273.65h2.74v1.36h-2.74zM410.86 273.65h4.10v1.36h-4.10zM421.80 273.65h4.10v1.36h-4.10zM427.27 273.65h1.37v1.36h-1.37zM430.01 273.65h2.74v1.36h-2.74zM434.11 273.65h1.37v1.36h-1.37zM436.85 273.65h1.37v1.36h-1.37zM379.39 275.01h1.37v1.36h-1.37zM383.50 275.01h2.74v1.36h-2.74zM390.34 275.01h1.37v1.36h-1.37zM434.11 275.01h1.37v1.36h-1.37zM379.39 276.38h1.37v1.36h-1.37zM439.58 276.38h1.37v1.36h-1.37zM365.71 277.74h1.37v1.36h-1.37zM369.82 277.74h2.74v1.36h-2.74zM362.98 279.10h1.37v1.36h-1.37zM371.19 279.10h1.37v1.36h-1.37zM430.01 279.10h5.47v1.36h-5.47zM439.58 279.10h2.74v1.36h-2.74zM361.61 280.46h1.37v1.36h-1.37zM428.64 280.46h4.10v1.36h-4.10zM423.17 281.82h1.37v1.36h-1.37zM358.87 283.18h2.74v1.36h-2.74zM421.80 283.18h1.37v1.36h-1.37zM357.51 284.55h1.37v1.36h-1.37zM419.06 284.55h1.37v1.36h-1.37zM357.51 285.91h1.37v1.36h-1.37zM416.33 285.91h1.37v1.36h-1.37zM424.54 285.91h2.74v1.36h-2.74zM428.64 285.91h1.37v1.36h-1.37zM354.77 287.27h2.74v1.36h-2.74zM414.96 287.27h1.37v1.36h-1.37zM419.06 287.27h1.37v1.36h-1.37zM421.80 287.27h1.37v1.36h-1.37zM425.90 287.27h2.74v1.36h-2.74zM402.65 288.63h2.74v1.36h-2.74zM406.75 288.63h2.74v1.36h-2.74zM413.59 288.63h1.37v1.36h-1.37zM416.33 288.63h2.74v1.36h-2.74zM427.27 288.63h1.37v1.36h-1.37zM353.40 289.99h1.37v1.36h-1.37zM397.18 289.99h2.74v1.36h-2.74zM401.28 289.99h1.37v1.36h-1.37zM405.39 289.99h1.37v1.36h-1.37zM413.59 289.99h2.74v1.36h-2.74zM350.67 291.35h2.74v1.36h-2.74zM384.87 291.35h1.37v1.36h-1.37zM394.44 291.35h1.37v1.36h-1.37zM397.18 291.35h4.10v1.36h-4.10zM402.65 291.35h2.74v1.36h-2.74zM410.86 291.35h1.37v1.36h-1.37zM413.59 291.35h1.37v1.36h-1.37zM416.33 291.35h2.74v1.36h-2.74zM424.54 291.35h2.74v1.36h-2.74zM350.67 292.72h1.37v1.36h-1.37zM382.13 292.72h6.84v1.36h-6.84zM393.07 292.72h1.37v1.36h-1.37zM406.75 292.72h1.37v1.36h-1.37zM412.23 292.72h1.37v1.36h-1.37zM421.80 292.72h2.74v1.36h-2.74zM347.93 294.08h2.74v1.36h-2.74zM365.71 294.08h1.37v1.36h-1.37zM375.29 294.08h1.37v1.36h-1.37zM380.76 294.08h1.37v1.36h-1.37zM384.87 294.08h1.37v1.36h-1.37zM387.60 294.08h1.37v1.36h-1.37zM390.34 294.08h2.74v1.36h-2.74zM397.18 294.08h1.37v1.36h-1.37zM404.02 294.08h1.37v1.36h-1.37zM408.12 294.08h1.37v1.36h-1.37zM414.96 294.08h1.37v1.36h-1.37zM346.56 295.44h2.74v1.36h-2.74zM362.98 295.44h4.10v1.36h-4.10zM368.45 295.44h4.10v1.36h-4.10zM375.29 295.44h4.10v1.36h-4.10zM384.87 295.44h1.37v1.36h-1.37zM390.34 295.44h4.10v1.36h-4.10zM397.18 295.44h1.37v1.36h-1.37zM412.23 295.44h1.37v1.36h-1.37zM419.06 295.44h1.37v1.36h-1.37zM343.83 296.80h4.10v1.36h-4.10zM356.14 296.80h1.37v1.36h-1.37zM364.35 296.80h1.37v1.36h-1.37zM367.08 296.80h1.37v1.36h-1.37zM369.82 296.80h4.10v1.36h-4.10zM379.39 296.80h2.74v1.36h-2.74zM384.87 296.80h1.37v1.36h-1.37zM391.71 296.80h1.37v1.36h-1.37zM420.43 296.80h1.37v1.36h-1.37zM336.99 298.16h1.37v1.36h-1.37zM342.46 298.16h4.10v1.36h-4.10zM354.77 298.16h2.74v1.36h-2.74zM358.87 298.16h1.37v1.36h-1.37zM364.35 298.16h1.37v1.36h-1.37zM372.55 298.16h2.74v1.36h-2.74zM387.60 298.16h1.37v1.36h-1.37zM326.04 299.52h1.37v1.36h-1.37zM328.78 299.52h5.47v1.36h-5.47zM353.40 299.52h1.37v1.36h-1.37zM356.14 299.52h1.37v1.36h-1.37zM358.87 299.52h1.37v1.36h-1.37zM361.61 299.52h1.37v1.36h-1.37zM368.45 299.52h1.37v1.36h-1.37zM371.19 299.52h1.37v1.36h-1.37zM373.92 299.52h1.37v1.36h-1.37zM384.87 299.52h1.37v1.36h-1.37zM387.60 299.52h2.74v1.36h-2.74zM330.15 300.89h1.37v1.36h-1.37zM347.93 300.89h4.10v1.36h-4.10zM354.77 300.89h1.37v1.36h-1.37zM369.82 300.89h1.37v1.36h-1.37zM382.13 300.89h1.37v1.36h-1.37zM347.93 302.25h2.74v1.36h-2.74zM352.03 302.25h6.84v1.36h-6.84zM367.08 302.25h1.37v1.36h-1.37zM371.19 302.25h1.37v1.36h-1.37zM376.66 302.25h1.37v1.36h-1.37zM383.50 302.25h1.37v1.36h-1.37zM317.84 303.61h1.37v1.36h-1.37zM371.19 303.61h1.37v1.36h-1.37zM380.76 303.61h1.37v1.36h-1.37zM386.23 303.61h1.37v1.36h-1.37zM395.81 303.61h1.37v1.36h-1.37zM343.83 304.97h4.10v1.36h-4.10zM368.45 304.97h1.37v1.36h-1.37zM378.03 304.97h1.37v1.36h-1.37zM316.47 306.33h1.37v1.36h-1.37zM343.83 306.33h1.37v1.36h-1.37zM346.56 306.33h1.37v1.36h-1.37zM350.67 306.33h1.37v1.36h-1.37zM368.45 306.33h1.37v1.36h-1.37zM316.47 307.69h1.37v1.36h-1.37zM343.83 307.69h1.37v1.36h-1.37zM350.67 307.69h1.37v1.36h-1.37zM360.24 307.69h1.37v1.36h-1.37zM316.47 309.06h1.37v1.36h-1.37zM342.46 309.06h1.37v1.36h-1.37zM345.19 309.06h1.37v1.36h-1.37zM316.47 310.42h1.37v1.36h-1.37zM341.09 310.42h2.74v1.36h-2.74zM345.19 310.42h2.74v1.36h-2.74zM354.77 310.42h1.37v1.36h-1.37zM316.47 311.78h1.37v1.36h-1.37zM341.09 311.78h2.74v1.36h-2.74zM345.19 311.78h2.74v1.36h-2.74zM316.47 313.14h1.37v1.36h-1.37zM342.46 313.14h1.37v1.36h-1.37zM346.56 313.14h1.37v1.36h-1.37zM315.10 314.50h1.37v1.36h-1.37zM356.14 314.50h1.37v1.36h-1.37zM341.09 315.86h1.37v1.36h-1.37zM356.14 315.86h1.37v1.36h-1.37zM341.09 317.23h1.37v1.36h-1.37zM315.10 318.59h1.37v1.36h-1.37zM339.72 318.59h1.37v1.36h-1.37zM315.10 319.95h1.37v1.36h-1.37zM338.35 319.95h1.37v1.36h-1.37zM342.46 319.95h1.37v1.36h-1.37zM315.10 321.31h1.37v1.36h-1.37zM313.73 322.67h1.37v1.36h-1.37zM338.35 322.67h1.37v1.36h-1.37zM313.73 324.04h1.37v1.36h-1.37zM313.73 326.76h1.37v1.36h-1.37zM336.99 326.76h1.37v1.36h-1.37zM312.36 328.12h1.37v1.36h-1.37zM341.09 328.12h1.37v1.36h-1.37zM312.36 330.84h1.37v1.36h-1.37zM335.62 330.84h1.37v1.36h-1.37zM339.72 330.84h1.37v1.36h-1.37zM339.72 332.21h1.37v1.36h-1.37zM312.36 333.57h1.37v1.36h-1.37zM334.25 334.93h1.37v1.36h-1.37zM311.00 336.29h1.37v1.36h-1.37zM332.88 336.29h1.37v1.36h-1.37zM335.62 336.29h1.37v1.36h-1.37zM312.36 339.01h2.74v1.36h-2.74zM312.36 340.38h4.10v1.36h-4.10zM332.88 341.74h1.37v1.36h-1.37zM332.88 343.10h1.37v1.36h-1.37zM321.94 344.46h1.37v1.36h-1.37zM330.15 344.46h2.74v1.36h-2.74zM324.67 345.82h1.37v1.36h-1.37zM327.41 345.82h1.37v1.36h-1.37z"/>
<path fill="#2452ee" d="M436.85 269.57h1.37v1.36h-1.37zM421.80 270.93h1.37v1.36h-1.37zM420.43 272.29h1.37v1.36h-1.37zM428.64 272.29h1.37v1.36h-1.37zM388.97 273.65h1.37v1.36h-1.37zM395.81 273.65h1.37v1.36h-1.37zM398.55 273.65h2.74v1.36h-2.74zM402.65 273.65h2.74v1.36h-2.74zM408.12 273.65h2.74v1.36h-2.74zM414.96 273.65h6.84v1.36h-6.84zM425.90 273.65h1.37v1.36h-1.37zM428.64 273.65h1.37v1.36h-1.37zM380.76 275.01h2.74v1.36h-2.74zM386.23 275.01h4.10v1.36h-4.10zM394.44 275.01h4.10v1.36h-4.10zM399.91 275.01h1.37v1.36h-1.37zM405.39 275.01h1.37v1.36h-1.37zM409.49 275.01h4.10v1.36h-4.10zM417.70 275.01h1.37v1.36h-1.37zM421.80 275.01h12.31v1.36h-12.31zM371.19 276.38h1.37v1.36h-1.37zM376.66 276.38h2.74v1.36h-2.74zM380.76 276.38h5.47v1.36h-5.47zM402.65 276.38h1.37v1.36h-1.37zM423.17 276.38h12.31v1.36h-12.31zM372.55 277.74h4.10v1.36h-4.10zM421.80 277.74h15.05v1.36h-15.05zM364.35 279.10h2.74v1.36h-2.74zM368.45 279.10h2.74v1.36h-2.74zM421.80 279.10h8.21v1.36h-8.21zM362.98 280.46h4.10v1.36h-4.10zM417.70 280.46h1.37v1.36h-1.37zM421.80 280.46h6.84v1.36h-6.84zM360.24 281.82h5.47v1.36h-5.47zM421.80 281.82h1.37v1.36h-1.37zM424.54 281.82h2.74v1.36h-2.74zM361.61 283.18h1.37v1.36h-1.37zM364.35 283.18h1.37v1.36h-1.37zM412.23 283.18h1.37v1.36h-1.37zM420.43 283.18h1.37v1.36h-1.37zM423.17 283.18h2.74v1.36h-2.74zM410.86 284.55h1.37v1.36h-1.37zM413.59 284.55h1.37v1.36h-1.37zM416.33 284.55h2.74v1.36h-2.74zM358.87 285.91h1.37v1.36h-1.37zM401.28 285.91h1.37v1.36h-1.37zM412.23 285.91h4.10v1.36h-4.10zM357.51 287.27h1.37v1.36h-1.37zM398.55 287.27h1.37v1.36h-1.37zM402.65 287.27h1.37v1.36h-1.37zM406.75 287.27h1.37v1.36h-1.37zM409.49 287.27h5.47v1.36h-5.47zM354.77 288.63h5.47v1.36h-5.47zM395.81 288.63h4.10v1.36h-4.10zM405.39 288.63h1.37v1.36h-1.37zM409.49 288.63h4.10v1.36h-4.10zM354.77 289.99h2.74v1.36h-2.74zM382.13 289.99h1.37v1.36h-1.37zM386.23 289.99h4.10v1.36h-4.10zM395.81 289.99h1.37v1.36h-1.37zM353.40 291.35h4.10v1.36h-4.10zM358.87 291.35h1.37v1.36h-1.37zM369.82 291.35h1.37v1.36h-1.37zM372.55 291.35h1.37v1.36h-1.37zM375.29 291.35h1.37v1.36h-1.37zM382.13 291.35h2.74v1.36h-2.74zM386.23 291.35h6.84v1.36h-6.84zM352.03 292.72h5.47v1.36h-5.47zM361.61 292.72h1.37v1.36h-1.37zM365.71 292.72h1.37v1.36h-1.37zM373.92 292.72h1.37v1.36h-1.37zM376.66 292.72h4.10v1.36h-4.10zM397.18 292.72h1.37v1.36h-1.37zM350.67 294.08h6.84v1.36h-6.84zM360.24 294.08h2.74v1.36h-2.74zM364.35 294.08h1.37v1.36h-1.37zM367.08 294.08h4.10v1.36h-4.10zM372.55 294.08h2.74v1.36h-2.74zM376.66 294.08h4.10v1.36h-4.10zM388.97 294.08h1.37v1.36h-1.37zM393.07 294.08h1.37v1.36h-1.37zM402.65 294.08h1.37v1.36h-1.37zM412.23 294.08h1.37v1.36h-1.37zM349.30 295.44h9.58v1.36h-9.58zM360.24 295.44h2.74v1.36h-2.74zM367.08 295.44h1.37v1.36h-1.37zM372.55 295.44h2.74v1.36h-2.74zM347.93 296.80h8.21v1.36h-8.21zM357.51 296.80h1.37v1.36h-1.37zM378.03 296.80h1.37v1.36h-1.37zM335.62 298.16h1.37v1.36h-1.37zM338.35 298.16h2.74v1.36h-2.74zM346.56 298.16h8.21v1.36h-8.21zM360.24 298.16h1.37v1.36h-1.37zM371.19 298.16h1.37v1.36h-1.37zM378.03 298.16h1.37v1.36h-1.37zM382.13 298.16h1.37v1.36h-1.37zM406.75 298.16h1.37v1.36h-1.37zM327.41 299.52h1.37v1.36h-1.37zM334.25 299.52h6.84v1.36h-6.84zM342.46 299.52h10.94v1.36h-10.94zM319.20 300.89h1.37v1.36h-1.37zM321.94 300.89h6.84v1.36h-6.84zM331.51 300.89h6.84v1.36h-6.84zM341.09 300.89h6.84v1.36h-6.84zM353.40 300.89h1.37v1.36h-1.37zM368.45 300.89h1.37v1.36h-1.37zM319.20 302.25h1.37v1.36h-1.37zM321.94 302.25h4.10v1.36h-4.10zM334.25 302.25h2.74v1.36h-2.74zM342.46 302.25h1.37v1.36h-1.37zM345.19 302.25h2.74v1.36h-2.74zM365.71 302.25h1.37v1.36h-1.37zM319.20 303.61h1.37v1.36h-1.37zM321.94 303.61h1.37v1.36h-1.37zM324.67 303.61h1.37v1.36h-1.37zM342.46 303.61h4.10v1.36h-4.10zM317.84 304.97h1.37v1.36h-1.37zM350.67 304.97h1.37v1.36h-1.37zM317.84 306.33h2.74v1.36h-2.74zM342.46 306.33h1.37v1.36h-1.37zM352.03 306.33h1.37v1.36h-1.37zM317.84 307.69h1.37v1.36h-1.37zM341.09 307.69h2.74v1.36h-2.74zM317.84 309.06h1.37v1.36h-1.37zM317.84 310.42h1.37v1.36h-1.37zM339.72 310.42h1.37v1.36h-1.37zM317.84 313.14h1.37v1.36h-1.37zM339.72 313.14h1.37v1.36h-1.37zM345.19 313.14h1.37v1.36h-1.37zM316.47 314.50h1.37v1.36h-1.37zM339.72 314.50h2.74v1.36h-2.74zM315.10 315.86h2.74v1.36h-2.74zM338.35 315.86h2.74v1.36h-2.74zM315.10 317.23h2.74v1.36h-2.74zM338.35 317.23h2.74v1.36h-2.74zM342.46 317.23h1.37v1.36h-1.37zM316.47 318.59h1.37v1.36h-1.37zM336.99 318.59h2.74v1.36h-2.74zM342.46 318.59h1.37v1.36h-1.37zM316.47 319.95h1.37v1.36h-1.37zM336.99 319.95h1.37v1.36h-1.37zM338.35 321.31h1.37v1.36h-1.37zM336.99 322.67h1.37v1.36h-1.37zM336.99 324.04h1.37v1.36h-1.37zM313.73 325.40h2.74v1.36h-2.74zM335.62 325.40h2.74v1.36h-2.74zM335.62 326.76h1.37v1.36h-1.37zM313.73 328.12h1.37v1.36h-1.37zM335.62 328.12h1.37v1.36h-1.37zM312.36 329.48h2.74v1.36h-2.74zM313.73 330.84h1.37v1.36h-1.37zM312.36 332.21h2.74v1.36h-2.74zM313.73 333.57h1.37v1.36h-1.37zM334.25 333.57h1.37v1.36h-1.37zM312.36 334.93h1.37v1.36h-1.37zM312.36 337.65h1.37v1.36h-1.37zM332.88 337.65h1.37v1.36h-1.37zM316.47 339.01h1.37v1.36h-1.37zM332.88 339.01h1.37v1.36h-1.37zM316.47 340.38h1.37v1.36h-1.37zM332.88 340.38h1.37v1.36h-1.37zM316.47 341.74h5.47v1.36h-5.47zM331.51 341.74h1.37v1.36h-1.37zM319.20 343.10h4.10v1.36h-4.10zM326.04 343.10h1.37v1.36h-1.37zM331.51 343.10h1.37v1.36h-1.37zM323.31 344.46h6.84v1.36h-6.84zM323.31 345.82h1.37v1.36h-1.37zM326.04 345.82h1.37v1.36h-1.37zM328.78 345.82h2.74v1.36h-2.74zM327.41 347.18h1.37v1.36h-1.37z"/>
<path fill="#4cacf4" d="M401.28 273.65h1.37v1.36h-1.37zM391.71 275.01h1.37v1.36h-1.37zM398.55 275.01h1.37v1.36h-1.37zM402.65 275.01h2.74v1.36h-2.74zM406.75 275.01h2.74v1.36h-2.74zM413.59 275.01h4.10v1.36h-4.10zM419.06 275.01h2.74v1.36h-2.74zM387.60 276.38h1.37v1.36h-1.37zM398.55 276.38h1.37v1.36h-1.37zM401.28 276.38h1.37v1.36h-1.37zM404.02 276.38h1.37v1.36h-1.37zM408.12 276.38h15.05v1.36h-15.05zM410.86 277.74h10.94v1.36h-10.94zM367.08 279.10h1.37v1.36h-1.37zM410.86 279.10h10.94v1.36h-10.94zM367.08 280.46h4.10v1.36h-4.10zM412.23 280.46h5.47v1.36h-5.47zM419.06 280.46h2.74v1.36h-2.74zM365.71 281.82h1.37v1.36h-1.37zM410.86 281.82h10.94v1.36h-10.94zM362.98 283.18h1.37v1.36h-1.37zM365.71 283.18h1.37v1.36h-1.37zM406.75 283.18h1.37v1.36h-1.37zM409.49 283.18h2.74v1.36h-2.74zM413.59 283.18h6.84v1.36h-6.84zM358.87 284.55h6.84v1.36h-6.84zM399.91 284.55h10.94v1.36h-10.94zM412.23 284.55h1.37v1.36h-1.37zM414.96 284.55h1.37v1.36h-1.37zM420.43 284.55h1.37v1.36h-1.37zM360.24 285.91h4.10v1.36h-4.10zM397.18 285.91h4.10v1.36h-4.10zM402.65 285.91h9.58v1.36h-9.58zM358.87 287.27h6.84v1.36h-6.84zM393.07 287.27h1.37v1.36h-1.37zM395.81 287.27h2.74v1.36h-2.74zM399.91 287.27h2.74v1.36h-2.74zM404.02 287.27h2.74v1.36h-2.74zM408.12 287.27h1.37v1.36h-1.37zM360.24 288.63h5.47v1.36h-5.47zM384.87 288.63h10.94v1.36h-10.94zM399.91 288.63h2.74v1.36h-2.74zM357.51 289.99h9.58v1.36h-9.58zM375.29 289.99h1.37v1.36h-1.37zM378.03 289.99h4.10v1.36h-4.10zM383.50 289.99h2.74v1.36h-2.74zM390.34 289.99h5.47v1.36h-5.47zM357.51 291.35h1.37v1.36h-1.37zM360.24 291.35h6.84v1.36h-6.84zM368.45 291.35h1.37v1.36h-1.37zM371.19 291.35h1.37v1.36h-1.37zM373.92 291.35h1.37v1.36h-1.37zM376.66 291.35h5.47v1.36h-5.47zM357.51 292.72h4.10v1.36h-4.10zM362.98 292.72h2.74v1.36h-2.74zM367.08 292.72h6.84v1.36h-6.84zM375.29 292.72h1.37v1.36h-1.37zM380.76 292.72h1.37v1.36h-1.37zM357.51 294.08h2.74v1.36h-2.74zM362.98 294.08h1.37v1.36h-1.37zM371.19 294.08h1.37v1.36h-1.37zM358.87 295.44h1.37v1.36h-1.37zM341.09 299.52h1.37v1.36h-1.37zM328.78 300.89h1.37v1.36h-1.37zM338.35 300.89h2.74v1.36h-2.74zM320.57 302.25h1.37v1.36h-1.37zM328.78 302.25h2.74v1.36h-2.74zM336.99 302.25h5.47v1.36h-5.47zM343.83 302.25h1.37v1.36h-1.37zM320.57 303.61h1.37v1.36h-1.37zM339.72 303.61h2.74v1.36h-2.74zM339.72 304.97h4.10v1.36h-4.10zM341.09 306.33h1.37v1.36h-1.37zM339.72 307.69h1.37v1.36h-1.37zM341.09 309.06h1.37v1.36h-1.37zM341.09 313.14h1.37v1.36h-1.37zM317.84 315.86h1.37v1.36h-1.37zM336.99 321.31h1.37v1.36h-1.37zM335.62 329.48h1.37v1.36h-1.37zM334.25 330.84h1.37v1.36h-1.37zM334.25 332.21h1.37v1.36h-1.37zM312.36 336.29h2.74v1.36h-2.74zM331.51 336.29h1.37v1.36h-1.37zM313.73 337.65h5.47v1.36h-5.47zM331.51 337.65h1.37v1.36h-1.37zM315.10 339.01h1.37v1.36h-1.37zM317.84 339.01h1.37v1.36h-1.37zM331.51 339.01h1.37v1.36h-1.37zM317.84 340.38h15.05v1.36h-15.05zM321.94 341.74h9.58v1.36h-9.58zM323.31 343.10h2.74v1.36h-2.74zM327.41 343.10h4.10v1.36h-4.10z"/>
<path fill="#3cc6d2" d="M393.07 275.01h1.37v1.36h-1.37zM401.28 275.01h1.37v1.36h-1.37zM386.23 276.38h1.37v1.36h-1.37zM388.97 276.38h9.58v1.36h-9.58zM399.91 276.38h1.37v1.36h-1.37zM405.39 276.38h2.74v1.36h-2.74zM376.66 277.74h2.74v1.36h-2.74zM380.76 277.74h5.47v1.36h-5.47zM387.60 277.74h1.37v1.36h-1.37zM398.55 277.74h1.37v1.36h-1.37zM401.28 277.74h2.74v1.36h-2.74zM409.49 277.74h1.37v1.36h-1.37zM372.55 279.10h4.10v1.36h-4.10zM383.50 279.10h2.74v1.36h-2.74zM371.19 280.46h1.37v1.36h-1.37zM373.92 280.46h1.37v1.36h-1.37zM367.08 281.82h1.37v1.36h-1.37zM369.82 281.82h1.37v1.36h-1.37zM408.12 281.82h2.74v1.36h-2.74zM399.91 283.18h6.84v1.36h-6.84zM408.12 283.18h1.37v1.36h-1.37zM390.34 284.55h1.37v1.36h-1.37zM398.55 284.55h1.37v1.36h-1.37zM364.35 285.91h2.74v1.36h-2.74zM388.97 285.91h4.10v1.36h-4.10zM394.44 285.91h2.74v1.36h-2.74zM365.71 287.27h1.37v1.36h-1.37zM384.87 287.27h8.21v1.36h-8.21zM394.44 287.27h1.37v1.36h-1.37zM365.71 288.63h4.10v1.36h-4.10zM376.66 288.63h8.21v1.36h-8.21zM367.08 289.99h2.74v1.36h-2.74zM371.19 289.99h4.10v1.36h-4.10zM376.66 289.99h1.37v1.36h-1.37zM367.08 291.35h1.37v1.36h-1.37zM326.04 302.25h2.74v1.36h-2.74zM332.88 302.25h1.37v1.36h-1.37zM323.31 303.61h1.37v1.36h-1.37zM326.04 303.61h5.47v1.36h-5.47zM332.88 303.61h2.74v1.36h-2.74zM336.99 303.61h2.74v1.36h-2.74zM319.20 304.97h5.47v1.36h-5.47zM338.35 304.97h1.37v1.36h-1.37zM320.57 306.33h1.37v1.36h-1.37zM327.41 306.33h1.37v1.36h-1.37zM338.35 306.33h2.74v1.36h-2.74zM319.20 307.69h2.74v1.36h-2.74zM338.35 309.06h2.74v1.36h-2.74zM339.72 311.78h1.37v1.36h-1.37zM317.84 314.50h1.37v1.36h-1.37zM338.35 314.50h1.37v1.36h-1.37zM317.84 317.23h1.37v1.36h-1.37zM316.47 321.31h1.37v1.36h-1.37zM335.62 321.31h1.37v1.36h-1.37zM315.10 322.67h1.37v1.36h-1.37zM335.62 324.04h1.37v1.36h-1.37zM315.10 328.12h1.37v1.36h-1.37zM334.25 328.12h1.37v1.36h-1.37zM334.25 329.48h1.37v1.36h-1.37zM332.88 330.84h1.37v1.36h-1.37zM332.88 332.21h1.37v1.36h-1.37zM315.10 333.57h1.37v1.36h-1.37zM332.88 333.57h1.37v1.36h-1.37zM313.73 334.93h1.37v1.36h-1.37zM331.51 334.93h2.74v1.36h-2.74zM315.10 336.29h4.10v1.36h-4.10zM330.15 336.29h1.37v1.36h-1.37zM319.20 337.65h1.37v1.36h-1.37zM330.15 337.65h1.37v1.36h-1.37zM319.20 339.01h12.31v1.36h-12.31z"/>
<path fill="#36e83a" d="M379.39 277.74h1.37v1.36h-1.37zM386.23 277.74h1.37v1.36h-1.37zM388.97 277.74h9.58v1.36h-9.58zM399.91 277.74h1.37v1.36h-1.37zM404.02 277.74h5.47v1.36h-5.47zM376.66 279.10h6.84v1.36h-6.84zM386.23 279.10h24.62v1.36h-24.62zM372.55 280.46h1.37v1.36h-1.37zM375.29 280.46h36.94v1.36h-36.94zM368.45 281.82h1.37v1.36h-1.37zM371.19 281.82h36.94v1.36h-36.94zM367.08 283.18h32.83v1.36h-32.83zM365.71 284.55h24.62v1.36h-24.62zM391.71 284.55h6.84v1.36h-6.84zM367.08 285.91h21.89v1.36h-21.89zM393.07 285.91h1.37v1.36h-1.37zM367.08 287.27h17.78v1.36h-17.78zM369.82 288.63h6.84v1.36h-6.84zM369.82 289.99h1.37v1.36h-1.37zM331.51 302.25h1.37v1.36h-1.37zM331.51 303.61h1.37v1.36h-1.37zM335.62 303.61h1.37v1.36h-1.37zM324.67 304.97h13.68v1.36h-13.68zM321.94 306.33h5.47v1.36h-5.47zM328.78 306.33h9.58v1.36h-9.58zM321.94 307.69h17.78v1.36h-17.78zM319.20 309.06h19.15v1.36h-19.15zM319.20 310.42h20.52v1.36h-20.52zM317.84 311.78h10.94v1.36h-10.94zM331.51 311.78h8.21v1.36h-8.21zM319.20 313.14h8.21v1.36h-8.21zM331.51 313.14h8.21v1.36h-8.21zM319.20 314.50h6.84v1.36h-6.84zM331.51 314.50h6.84v1.36h-6.84zM319.20 315.86h5.47v1.36h-5.47zM330.15 315.86h8.21v1.36h-8.21zM319.20 317.23h2.74v1.36h-2.74zM330.15 317.23h8.21v1.36h-8.21zM317.84 318.59h4.10v1.36h-4.10zM330.15 318.59h6.84v1.36h-6.84zM317.84 319.95h6.84v1.36h-6.84zM330.15 319.95h6.84v1.36h-6.84zM317.84 321.31h6.84v1.36h-6.84zM328.78 321.31h6.84v1.36h-6.84zM316.47 322.67h6.84v1.36h-6.84zM328.78 322.67h8.21v1.36h-8.21zM315.10 324.04h8.21v1.36h-8.21zM328.78 324.04h6.84v1.36h-6.84zM316.47 325.40h6.84v1.36h-6.84zM328.78 325.40h6.84v1.36h-6.84zM315.10 326.76h6.84v1.36h-6.84zM328.78 326.76h6.84v1.36h-6.84zM316.47 328.12h5.47v1.36h-5.47zM328.78 328.12h5.47v1.36h-5.47zM315.10 329.48h2.74v1.36h-2.74zM326.04 329.48h8.21v1.36h-8.21zM315.10 330.84h1.37v1.36h-1.37zM326.04 330.84h6.84v1.36h-6.84zM324.67 332.21h8.21v1.36h-8.21zM324.67 333.57h8.21v1.36h-8.21zM315.10 334.93h1.37v1.36h-1.37zM324.67 334.93h6.84v1.36h-6.84zM321.94 336.29h8.21v1.36h-8.21zM320.57 337.65h9.58v1.36h-9.58z"/>
<path fill="#96ee30" d="M328.78 311.78h2.74v1.36h-2.74zM327.41 313.14h4.10v1.36h-4.10zM326.04 314.50h5.47v1.36h-5.47zM326.04 315.86h4.10v1.36h-4.10zM327.41 317.23h2.74v1.36h-2.74zM326.04 318.59h4.10v1.36h-4.10zM326.04 319.95h4.10v1.36h-4.10zM324.67 321.31h4.10v1.36h-4.10zM323.31 322.67h5.47v1.36h-5.47zM323.31 324.04h5.47v1.36h-5.47zM323.31 325.40h5.47v1.36h-5.47zM321.94 326.76h6.84v1.36h-6.84zM321.94 328.12h6.84v1.36h-6.84zM324.67 329.48h1.37v1.36h-1.37z"/>
<path fill="#d2ea28" d="M324.67 315.86h1.37v1.36h-1.37zM321.94 317.23h2.74v1.36h-2.74zM326.04 317.23h1.37v1.36h-1.37zM321.94 318.59h2.74v1.36h-2.74zM324.67 319.95h1.37v1.36h-1.37zM317.84 329.48h1.37v1.36h-1.37zM321.94 329.48h2.74v1.36h-2.74zM316.47 330.84h1.37v1.36h-1.37zM323.31 330.84h2.74v1.36h-2.74zM315.10 332.21h1.37v1.36h-1.37zM323.31 332.21h1.37v1.36h-1.37zM316.47 333.57h1.37v1.36h-1.37zM323.31 333.57h1.37v1.36h-1.37zM316.47 334.93h2.74v1.36h-2.74zM321.94 334.93h2.74v1.36h-2.74zM319.20 336.29h2.74v1.36h-2.74z"/>
<path fill="#ee2222" d="M324.67 317.23h1.37v1.36h-1.37zM324.67 318.59h1.37v1.36h-1.37zM319.20 329.48h2.74v1.36h-2.74zM317.84 330.84h5.47v1.36h-5.47zM316.47 332.21h6.84v1.36h-6.84zM317.84 333.57h5.47v1.36h-5.47zM319.20 334.93h2.74v1.36h-2.74z"/>
</g>
<g filter="url(#jpg)">
<rect x="231.2" y="47" width="3.0" height="21.0" rx="1.4" fill="#244a78"/>
<rect x="231.7" y="49" width="2.1" height="2.0" fill="#3a8ec0"/>
<rect x="231.7" y="51" width="2.1" height="13.0" fill="#3cba5a"/>
<rect x="231.7" y="64" width="2.1" height="2.5" fill="#3a8ec0"/>
<rect x="231.2" y="255.6" width="3.0" height="22.7" rx="1.4" fill="#244a78"/>
<rect x="231.7" y="257" width="2.1" height="3.0" fill="#3aa0b0"/>
<rect x="231.7" y="260" width="2.1" height="16.5" fill="#3cba5a"/>
<rect x="453.0" y="44.3" width="3.0" height="39.2" rx="1.4" fill="#244a78"/>
<rect x="453.5" y="46.7" width="2.1" height="16.6" fill="#44b04c"/>
<rect x="453.5" y="63.3" width="2.1" height="10.7" fill="#3a9cb8"/>
<rect x="453.5" y="74" width="2.1" height="8.0" fill="#3a78c0"/>
<rect x="453.0" y="250.7" width="3.0" height="50.0" rx="1.4" fill="#244a78"/>
<rect x="453.5" y="251.5" width="2.1" height="6.5" fill="#3ab080"/>
<rect x="453.5" y="258" width="2.1" height="14.0" fill="#d0302a"/>
<rect x="453.5" y="272" width="2.1" height="13.0" fill="#40b050"/>
<rect x="453.5" y="285" width="2.1" height="14.0" fill="#3aa8c0"/>
<rect x="212" y="61.2" width="1.4" height="1.3" fill="#1a2ab4"/>
<rect x="214.5" y="60.4" width="1.4" height="1.3" fill="#1a2ab4"/>
<rect x="218" y="62" width="1.4" height="1.3" fill="#1a2ab4"/>
<rect x="221" y="62.2" width="1.4" height="1.3" fill="#1a2ab4"/>
<rect x="228" y="61" width="1.4" height="1.3" fill="#1a2ab4"/>
<rect x="205" y="63.5" width="1.4" height="1.3" fill="#1a2ab4"/>
<rect x="208" y="61.5" width="1.4" height="1.3" fill="#1a2ab4"/>
</g>
<rect x="59.1" y="20.0" width="175.05" height="174.30" fill="none" stroke="#2a2a2e" stroke-width="1.3"/>
<line x1="56.7" y1="194.30" x2="59.1" y2="194.30" stroke="#222" stroke-width="0.9"/>
<line x1="57.8" y1="181.18" x2="59.1" y2="181.18" stroke="#222" stroke-width="0.9"/>
<line x1="57.8" y1="173.51" x2="59.1" y2="173.51" stroke="#222" stroke-width="0.9"/>
<line x1="57.8" y1="168.07" x2="59.1" y2="168.07" stroke="#222" stroke-width="0.9"/>
<line x1="57.8" y1="163.84" x2="59.1" y2="163.84" stroke="#222" stroke-width="0.9"/>
<line x1="57.8" y1="160.39" x2="59.1" y2="160.39" stroke="#222" stroke-width="0.9"/>
<line x1="57.8" y1="157.47" x2="59.1" y2="157.47" stroke="#222" stroke-width="0.9"/>
<line x1="57.8" y1="154.95" x2="59.1" y2="154.95" stroke="#222" stroke-width="0.9"/>
<line x1="57.8" y1="152.72" x2="59.1" y2="152.72" stroke="#222" stroke-width="0.9"/>
<line x1="56.7" y1="150.73" x2="59.1" y2="150.73" stroke="#222" stroke-width="0.9"/>
<line x1="57.8" y1="137.61" x2="59.1" y2="137.61" stroke="#222" stroke-width="0.9"/>
<line x1="57.8" y1="129.93" x2="59.1" y2="129.93" stroke="#222" stroke-width="0.9"/>
<line x1="57.8" y1="124.49" x2="59.1" y2="124.49" stroke="#222" stroke-width="0.9"/>
<line x1="57.8" y1="120.27" x2="59.1" y2="120.27" stroke="#222" stroke-width="0.9"/>
<line x1="57.8" y1="116.82" x2="59.1" y2="116.82" stroke="#222" stroke-width="0.9"/>
<line x1="57.8" y1="113.90" x2="59.1" y2="113.90" stroke="#222" stroke-width="0.9"/>
<line x1="57.8" y1="111.37" x2="59.1" y2="111.37" stroke="#222" stroke-width="0.9"/>
<line x1="57.8" y1="109.14" x2="59.1" y2="109.14" stroke="#222" stroke-width="0.9"/>
<line x1="56.7" y1="107.15" x2="59.1" y2="107.15" stroke="#222" stroke-width="0.9"/>
<line x1="57.8" y1="94.03" x2="59.1" y2="94.03" stroke="#222" stroke-width="0.9"/>
<line x1="57.8" y1="86.36" x2="59.1" y2="86.36" stroke="#222" stroke-width="0.9"/>
<line x1="57.8" y1="80.92" x2="59.1" y2="80.92" stroke="#222" stroke-width="0.9"/>
<line x1="57.8" y1="76.69" x2="59.1" y2="76.69" stroke="#222" stroke-width="0.9"/>
<line x1="57.8" y1="73.24" x2="59.1" y2="73.24" stroke="#222" stroke-width="0.9"/>
<line x1="57.8" y1="70.32" x2="59.1" y2="70.32" stroke="#222" stroke-width="0.9"/>
<line x1="57.8" y1="67.80" x2="59.1" y2="67.80" stroke="#222" stroke-width="0.9"/>
<line x1="57.8" y1="65.57" x2="59.1" y2="65.57" stroke="#222" stroke-width="0.9"/>
<line x1="56.7" y1="63.57" x2="59.1" y2="63.57" stroke="#222" stroke-width="0.9"/>
<line x1="57.8" y1="50.46" x2="59.1" y2="50.46" stroke="#222" stroke-width="0.9"/>
<line x1="57.8" y1="42.78" x2="59.1" y2="42.78" stroke="#222" stroke-width="0.9"/>
<line x1="57.8" y1="37.34" x2="59.1" y2="37.34" stroke="#222" stroke-width="0.9"/>
<line x1="57.8" y1="33.12" x2="59.1" y2="33.12" stroke="#222" stroke-width="0.9"/>
<line x1="57.8" y1="29.67" x2="59.1" y2="29.67" stroke="#222" stroke-width="0.9"/>
<line x1="57.8" y1="26.75" x2="59.1" y2="26.75" stroke="#222" stroke-width="0.9"/>
<line x1="57.8" y1="24.22" x2="59.1" y2="24.22" stroke="#222" stroke-width="0.9"/>
<line x1="57.8" y1="21.99" x2="59.1" y2="21.99" stroke="#222" stroke-width="0.9"/>
<line x1="56.7" y1="20.0" x2="59.1" y2="20.0" stroke="#222" stroke-width="0.9"/>
<line x1="59.30" y1="194.3" x2="59.30" y2="196.3" stroke="#222" stroke-width="0.9"/>
<line x1="66.40" y1="194.3" x2="66.40" y2="196.3" stroke="#222" stroke-width="0.9"/>
<line x1="73.50" y1="194.3" x2="73.50" y2="196.3" stroke="#222" stroke-width="0.9"/>
<line x1="80.60" y1="194.3" x2="80.60" y2="196.3" stroke="#222" stroke-width="0.9"/>
<line x1="87.70" y1="194.3" x2="87.70" y2="196.3" stroke="#222" stroke-width="0.9"/>
<line x1="94.80" y1="194.3" x2="94.80" y2="196.3" stroke="#222" stroke-width="0.9"/>
<line x1="101.90" y1="194.3" x2="101.90" y2="196.3" stroke="#222" stroke-width="0.9"/>
<line x1="109.00" y1="194.3" x2="109.00" y2="196.3" stroke="#222" stroke-width="0.9"/>
<line x1="116.10" y1="194.3" x2="116.10" y2="196.3" stroke="#222" stroke-width="0.9"/>
<line x1="123.20" y1="194.3" x2="123.20" y2="196.3" stroke="#222" stroke-width="0.9"/>
<line x1="130.30" y1="194.3" x2="130.30" y2="196.3" stroke="#222" stroke-width="0.9"/>
<line x1="137.40" y1="194.3" x2="137.40" y2="196.3" stroke="#222" stroke-width="0.9"/>
<line x1="144.50" y1="194.3" x2="144.50" y2="196.3" stroke="#222" stroke-width="0.9"/>
<line x1="151.60" y1="194.3" x2="151.60" y2="196.3" stroke="#222" stroke-width="0.9"/>
<line x1="158.70" y1="194.3" x2="158.70" y2="196.3" stroke="#222" stroke-width="0.9"/>
<line x1="165.80" y1="194.3" x2="165.80" y2="196.3" stroke="#222" stroke-width="0.9"/>
<line x1="172.90" y1="194.3" x2="172.90" y2="196.3" stroke="#222" stroke-width="0.9"/>
<line x1="180.00" y1="194.3" x2="180.00" y2="196.3" stroke="#222" stroke-width="0.9"/>
<line x1="187.10" y1="194.3" x2="187.10" y2="196.3" stroke="#222" stroke-width="0.9"/>
<line x1="194.20" y1="194.3" x2="194.20" y2="196.3" stroke="#222" stroke-width="0.9"/>
<line x1="201.30" y1="194.3" x2="201.30" y2="196.3" stroke="#222" stroke-width="0.9"/>
<line x1="208.40" y1="194.3" x2="208.40" y2="196.3" stroke="#222" stroke-width="0.9"/>
<line x1="215.50" y1="194.3" x2="215.50" y2="196.3" stroke="#222" stroke-width="0.9"/>
<line x1="222.60" y1="194.3" x2="222.60" y2="196.3" stroke="#222" stroke-width="0.9"/>
<line x1="229.70" y1="194.3" x2="229.70" y2="196.3" stroke="#222" stroke-width="0.9"/>
<text transform="translate(54.6,193.7) rotate(-90)" class="tl" style="font-size:7.2px">10<tspan dy="-2.4" style="font-size:5px">0</tspan></text>
<text transform="translate(54.6,150.1) rotate(-90)" class="tl" style="font-size:7.2px">10<tspan dy="-2.4" style="font-size:5px">1</tspan></text>
<text transform="translate(54.6,106.6) rotate(-90)" class="tl" style="font-size:7.2px">10<tspan dy="-2.4" style="font-size:5px">2</tspan></text>
<text transform="translate(54.6,63.0) rotate(-90)" class="tl" style="font-size:7.2px">10<tspan dy="-2.4" style="font-size:5px">3</tspan></text>
<text transform="translate(54.6,19.4) rotate(-90)" class="tl" style="font-size:7.2px">10<tspan dy="-2.4" style="font-size:5px">4</tspan></text>
<text transform="translate(46.8,115.4) rotate(-90)" class="tl" style="font-size:7px">FITC</text>
<text x="59.2" y="203.2" class="tl" style="font-size:7.1px" text-anchor="middle">0</text>
<text x="234.5" y="203.2" class="tl" style="font-size:7.1px" text-anchor="end">1023</text>
<text transform="translate(60.1,39.6) scale(0.91,1)" class="pl">A</text>
<line x1="104.0" y1="173.0" x2="104.0" y2="194.0" stroke="#000" stroke-width="1.6"/>
<text x="104.8" y="213.2" class="nl" text-anchor="middle">2N</text>
<line x1="153.5" y1="173.0" x2="153.5" y2="194.0" stroke="#000" stroke-width="1.6"/>
<text x="154.3" y="213.2" class="nl" text-anchor="middle">4N</text>
<rect x="59.3" y="232.8" width="174.90" height="174.30" fill="none" stroke="#2a2a2e" stroke-width="1.3"/>
<line x1="56.9" y1="407.10" x2="59.3" y2="407.10" stroke="#222" stroke-width="0.9"/>
<line x1="58.0" y1="393.98" x2="59.3" y2="393.98" stroke="#222" stroke-width="0.9"/>
<line x1="58.0" y1="386.31" x2="59.3" y2="386.31" stroke="#222" stroke-width="0.9"/>
<line x1="58.0" y1="380.87" x2="59.3" y2="380.87" stroke="#222" stroke-width="0.9"/>
<line x1="58.0" y1="376.64" x2="59.3" y2="376.64" stroke="#222" stroke-width="0.9"/>
<line x1="58.0" y1="373.19" x2="59.3" y2="373.19" stroke="#222" stroke-width="0.9"/>
<line x1="58.0" y1="370.27" x2="59.3" y2="370.27" stroke="#222" stroke-width="0.9"/>
<line x1="58.0" y1="367.75" x2="59.3" y2="367.75" stroke="#222" stroke-width="0.9"/>
<line x1="58.0" y1="365.52" x2="59.3" y2="365.52" stroke="#222" stroke-width="0.9"/>
<line x1="56.9" y1="363.53" x2="59.3" y2="363.53" stroke="#222" stroke-width="0.9"/>
<line x1="58.0" y1="350.41" x2="59.3" y2="350.41" stroke="#222" stroke-width="0.9"/>
<line x1="58.0" y1="342.73" x2="59.3" y2="342.73" stroke="#222" stroke-width="0.9"/>
<line x1="58.0" y1="337.29" x2="59.3" y2="337.29" stroke="#222" stroke-width="0.9"/>
<line x1="58.0" y1="333.07" x2="59.3" y2="333.07" stroke="#222" stroke-width="0.9"/>
<line x1="58.0" y1="329.62" x2="59.3" y2="329.62" stroke="#222" stroke-width="0.9"/>
<line x1="58.0" y1="326.70" x2="59.3" y2="326.70" stroke="#222" stroke-width="0.9"/>
<line x1="58.0" y1="324.17" x2="59.3" y2="324.17" stroke="#222" stroke-width="0.9"/>
<line x1="58.0" y1="321.94" x2="59.3" y2="321.94" stroke="#222" stroke-width="0.9"/>
<line x1="56.9" y1="319.95" x2="59.3" y2="319.95" stroke="#222" stroke-width="0.9"/>
<line x1="58.0" y1="306.83" x2="59.3" y2="306.83" stroke="#222" stroke-width="0.9"/>
<line x1="58.0" y1="299.16" x2="59.3" y2="299.16" stroke="#222" stroke-width="0.9"/>
<line x1="58.0" y1="293.72" x2="59.3" y2="293.72" stroke="#222" stroke-width="0.9"/>
<line x1="58.0" y1="289.49" x2="59.3" y2="289.49" stroke="#222" stroke-width="0.9"/>
<line x1="58.0" y1="286.04" x2="59.3" y2="286.04" stroke="#222" stroke-width="0.9"/>
<line x1="58.0" y1="283.12" x2="59.3" y2="283.12" stroke="#222" stroke-width="0.9"/>
<line x1="58.0" y1="280.60" x2="59.3" y2="280.60" stroke="#222" stroke-width="0.9"/>
<line x1="58.0" y1="278.37" x2="59.3" y2="278.37" stroke="#222" stroke-width="0.9"/>
<line x1="56.9" y1="276.38" x2="59.3" y2="276.38" stroke="#222" stroke-width="0.9"/>
<line x1="58.0" y1="263.26" x2="59.3" y2="263.26" stroke="#222" stroke-width="0.9"/>
<line x1="58.0" y1="255.58" x2="59.3" y2="255.58" stroke="#222" stroke-width="0.9"/>
<line x1="58.0" y1="250.14" x2="59.3" y2="250.14" stroke="#222" stroke-width="0.9"/>
<line x1="58.0" y1="245.92" x2="59.3" y2="245.92" stroke="#222" stroke-width="0.9"/>
<line x1="58.0" y1="242.47" x2="59.3" y2="242.47" stroke="#222" stroke-width="0.9"/>
<line x1="58.0" y1="239.55" x2="59.3" y2="239.55" stroke="#222" stroke-width="0.9"/>
<line x1="58.0" y1="237.02" x2="59.3" y2="237.02" stroke="#222" stroke-width="0.9"/>
<line x1="58.0" y1="234.79" x2="59.3" y2="234.79" stroke="#222" stroke-width="0.9"/>
<line x1="56.9" y1="232.8" x2="59.3" y2="232.8" stroke="#222" stroke-width="0.9"/>
<line x1="59.50" y1="407.1" x2="59.50" y2="409.1" stroke="#222" stroke-width="0.9"/>
<line x1="66.60" y1="407.1" x2="66.60" y2="409.1" stroke="#222" stroke-width="0.9"/>
<line x1="73.70" y1="407.1" x2="73.70" y2="409.1" stroke="#222" stroke-width="0.9"/>
<line x1="80.80" y1="407.1" x2="80.80" y2="409.1" stroke="#222" stroke-width="0.9"/>
<line x1="87.90" y1="407.1" x2="87.90" y2="409.1" stroke="#222" stroke-width="0.9"/>
<line x1="95.00" y1="407.1" x2="95.00" y2="409.1" stroke="#222" stroke-width="0.9"/>
<line x1="102.10" y1="407.1" x2="102.10" y2="409.1" stroke="#222" stroke-width="0.9"/>
<line x1="109.20" y1="407.1" x2="109.20" y2="409.1" stroke="#222" stroke-width="0.9"/>
<line x1="116.30" y1="407.1" x2="116.30" y2="409.1" stroke="#222" stroke-width="0.9"/>
<line x1="123.40" y1="407.1" x2="123.40" y2="409.1" stroke="#222" stroke-width="0.9"/>
<line x1="130.50" y1="407.1" x2="130.50" y2="409.1" stroke="#222" stroke-width="0.9"/>
<line x1="137.60" y1="407.1" x2="137.60" y2="409.1" stroke="#222" stroke-width="0.9"/>
<line x1="144.70" y1="407.1" x2="144.70" y2="409.1" stroke="#222" stroke-width="0.9"/>
<line x1="151.80" y1="407.1" x2="151.80" y2="409.1" stroke="#222" stroke-width="0.9"/>
<line x1="158.90" y1="407.1" x2="158.90" y2="409.1" stroke="#222" stroke-width="0.9"/>
<line x1="166.00" y1="407.1" x2="166.00" y2="409.1" stroke="#222" stroke-width="0.9"/>
<line x1="173.10" y1="407.1" x2="173.10" y2="409.1" stroke="#222" stroke-width="0.9"/>
<line x1="180.20" y1="407.1" x2="180.20" y2="409.1" stroke="#222" stroke-width="0.9"/>
<line x1="187.30" y1="407.1" x2="187.30" y2="409.1" stroke="#222" stroke-width="0.9"/>
<line x1="194.40" y1="407.1" x2="194.40" y2="409.1" stroke="#222" stroke-width="0.9"/>
<line x1="201.50" y1="407.1" x2="201.50" y2="409.1" stroke="#222" stroke-width="0.9"/>
<line x1="208.60" y1="407.1" x2="208.60" y2="409.1" stroke="#222" stroke-width="0.9"/>
<line x1="215.70" y1="407.1" x2="215.70" y2="409.1" stroke="#222" stroke-width="0.9"/>
<line x1="222.80" y1="407.1" x2="222.80" y2="409.1" stroke="#222" stroke-width="0.9"/>
<line x1="229.90" y1="407.1" x2="229.90" y2="409.1" stroke="#222" stroke-width="0.9"/>
<text transform="translate(54.6,406.5) rotate(-90)" class="tl" style="font-size:7.2px">10<tspan dy="-2.4" style="font-size:5px">0</tspan></text>
<text transform="translate(54.6,362.9) rotate(-90)" class="tl" style="font-size:7.2px">10<tspan dy="-2.4" style="font-size:5px">1</tspan></text>
<text transform="translate(54.6,319.4) rotate(-90)" class="tl" style="font-size:7.2px">10<tspan dy="-2.4" style="font-size:5px">2</tspan></text>
<text transform="translate(54.6,275.8) rotate(-90)" class="tl" style="font-size:7.2px">10<tspan dy="-2.4" style="font-size:5px">3</tspan></text>
<text transform="translate(54.6,232.2) rotate(-90)" class="tl" style="font-size:7.2px">10<tspan dy="-2.4" style="font-size:5px">4</tspan></text>
<text transform="translate(46.8,328.4) rotate(-90)" class="tl" style="font-size:7px">FITC</text>
<text x="59.4" y="416.0" class="tl" style="font-size:7.1px" text-anchor="middle">0</text>
<text x="234.5" y="416.0" class="tl" style="font-size:7.1px" text-anchor="end">1023</text>
<text transform="translate(60.1,252.6) scale(0.925,1)" class="pl">B</text>
<line x1="104.0" y1="386.0" x2="104.0" y2="407.0" stroke="#000" stroke-width="1.6"/>
<text x="104.8" y="426.2" class="nl" text-anchor="middle">2N</text>
<line x1="153.5" y1="386.0" x2="153.5" y2="407.0" stroke="#000" stroke-width="1.6"/>
<text x="154.3" y="426.2" class="nl" text-anchor="middle">4N</text>
<rect x="280.9" y="20.0" width="175.10" height="174.30" fill="none" stroke="#2a2a2e" stroke-width="1.3"/>
<line x1="278.5" y1="194.30" x2="280.9" y2="194.30" stroke="#222" stroke-width="0.9"/>
<line x1="279.6" y1="181.18" x2="280.9" y2="181.18" stroke="#222" stroke-width="0.9"/>
<line x1="279.6" y1="173.51" x2="280.9" y2="173.51" stroke="#222" stroke-width="0.9"/>
<line x1="279.6" y1="168.07" x2="280.9" y2="168.07" stroke="#222" stroke-width="0.9"/>
<line x1="279.6" y1="163.84" x2="280.9" y2="163.84" stroke="#222" stroke-width="0.9"/>
<line x1="279.6" y1="160.39" x2="280.9" y2="160.39" stroke="#222" stroke-width="0.9"/>
<line x1="279.6" y1="157.47" x2="280.9" y2="157.47" stroke="#222" stroke-width="0.9"/>
<line x1="279.6" y1="154.95" x2="280.9" y2="154.95" stroke="#222" stroke-width="0.9"/>
<line x1="279.6" y1="152.72" x2="280.9" y2="152.72" stroke="#222" stroke-width="0.9"/>
<line x1="278.5" y1="150.73" x2="280.9" y2="150.73" stroke="#222" stroke-width="0.9"/>
<line x1="279.6" y1="137.61" x2="280.9" y2="137.61" stroke="#222" stroke-width="0.9"/>
<line x1="279.6" y1="129.93" x2="280.9" y2="129.93" stroke="#222" stroke-width="0.9"/>
<line x1="279.6" y1="124.49" x2="280.9" y2="124.49" stroke="#222" stroke-width="0.9"/>
<line x1="279.6" y1="120.27" x2="280.9" y2="120.27" stroke="#222" stroke-width="0.9"/>
<line x1="279.6" y1="116.82" x2="280.9" y2="116.82" stroke="#222" stroke-width="0.9"/>
<line x1="279.6" y1="113.90" x2="280.9" y2="113.90" stroke="#222" stroke-width="0.9"/>
<line x1="279.6" y1="111.37" x2="280.9" y2="111.37" stroke="#222" stroke-width="0.9"/>
<line x1="279.6" y1="109.14" x2="280.9" y2="109.14" stroke="#222" stroke-width="0.9"/>
<line x1="278.5" y1="107.15" x2="280.9" y2="107.15" stroke="#222" stroke-width="0.9"/>
<line x1="279.6" y1="94.03" x2="280.9" y2="94.03" stroke="#222" stroke-width="0.9"/>
<line x1="279.6" y1="86.36" x2="280.9" y2="86.36" stroke="#222" stroke-width="0.9"/>
<line x1="279.6" y1="80.92" x2="280.9" y2="80.92" stroke="#222" stroke-width="0.9"/>
<line x1="279.6" y1="76.69" x2="280.9" y2="76.69" stroke="#222" stroke-width="0.9"/>
<line x1="279.6" y1="73.24" x2="280.9" y2="73.24" stroke="#222" stroke-width="0.9"/>
<line x1="279.6" y1="70.32" x2="280.9" y2="70.32" stroke="#222" stroke-width="0.9"/>
<line x1="279.6" y1="67.80" x2="280.9" y2="67.80" stroke="#222" stroke-width="0.9"/>
<line x1="279.6" y1="65.57" x2="280.9" y2="65.57" stroke="#222" stroke-width="0.9"/>
<line x1="278.5" y1="63.57" x2="280.9" y2="63.57" stroke="#222" stroke-width="0.9"/>
<line x1="279.6" y1="50.46" x2="280.9" y2="50.46" stroke="#222" stroke-width="0.9"/>
<line x1="279.6" y1="42.78" x2="280.9" y2="42.78" stroke="#222" stroke-width="0.9"/>
<line x1="279.6" y1="37.34" x2="280.9" y2="37.34" stroke="#222" stroke-width="0.9"/>
<line x1="279.6" y1="33.12" x2="280.9" y2="33.12" stroke="#222" stroke-width="0.9"/>
<line x1="279.6" y1="29.67" x2="280.9" y2="29.67" stroke="#222" stroke-width="0.9"/>
<line x1="279.6" y1="26.75" x2="280.9" y2="26.75" stroke="#222" stroke-width="0.9"/>
<line x1="279.6" y1="24.22" x2="280.9" y2="24.22" stroke="#222" stroke-width="0.9"/>
<line x1="279.6" y1="21.99" x2="280.9" y2="21.99" stroke="#222" stroke-width="0.9"/>
<line x1="278.5" y1="20.0" x2="280.9" y2="20.0" stroke="#222" stroke-width="0.9"/>
<line x1="281.10" y1="194.3" x2="281.10" y2="196.3" stroke="#222" stroke-width="0.9"/>
<line x1="288.20" y1="194.3" x2="288.20" y2="196.3" stroke="#222" stroke-width="0.9"/>
<line x1="295.30" y1="194.3" x2="295.30" y2="196.3" stroke="#222" stroke-width="0.9"/>
<line x1="302.40" y1="194.3" x2="302.40" y2="196.3" stroke="#222" stroke-width="0.9"/>
<line x1="309.50" y1="194.3" x2="309.50" y2="196.3" stroke="#222" stroke-width="0.9"/>
<line x1="316.60" y1="194.3" x2="316.60" y2="196.3" stroke="#222" stroke-width="0.9"/>
<line x1="323.70" y1="194.3" x2="323.70" y2="196.3" stroke="#222" stroke-width="0.9"/>
<line x1="330.80" y1="194.3" x2="330.80" y2="196.3" stroke="#222" stroke-width="0.9"/>
<line x1="337.90" y1="194.3" x2="337.90" y2="196.3" stroke="#222" stroke-width="0.9"/>
<line x1="345.00" y1="194.3" x2="345.00" y2="196.3" stroke="#222" stroke-width="0.9"/>
<line x1="352.10" y1="194.3" x2="352.10" y2="196.3" stroke="#222" stroke-width="0.9"/>
<line x1="359.20" y1="194.3" x2="359.20" y2="196.3" stroke="#222" stroke-width="0.9"/>
<line x1="366.30" y1="194.3" x2="366.30" y2="196.3" stroke="#222" stroke-width="0.9"/>
<line x1="373.40" y1="194.3" x2="373.40" y2="196.3" stroke="#222" stroke-width="0.9"/>
<line x1="380.50" y1="194.3" x2="380.50" y2="196.3" stroke="#222" stroke-width="0.9"/>
<line x1="387.60" y1="194.3" x2="387.60" y2="196.3" stroke="#222" stroke-width="0.9"/>
<line x1="394.70" y1="194.3" x2="394.70" y2="196.3" stroke="#222" stroke-width="0.9"/>
<line x1="401.80" y1="194.3" x2="401.80" y2="196.3" stroke="#222" stroke-width="0.9"/>
<line x1="408.90" y1="194.3" x2="408.90" y2="196.3" stroke="#222" stroke-width="0.9"/>
<line x1="416.00" y1="194.3" x2="416.00" y2="196.3" stroke="#222" stroke-width="0.9"/>
<line x1="423.10" y1="194.3" x2="423.10" y2="196.3" stroke="#222" stroke-width="0.9"/>
<line x1="430.20" y1="194.3" x2="430.20" y2="196.3" stroke="#222" stroke-width="0.9"/>
<line x1="437.30" y1="194.3" x2="437.30" y2="196.3" stroke="#222" stroke-width="0.9"/>
<line x1="444.40" y1="194.3" x2="444.40" y2="196.3" stroke="#222" stroke-width="0.9"/>
<line x1="451.50" y1="194.3" x2="451.50" y2="196.3" stroke="#222" stroke-width="0.9"/>
<text transform="translate(276.6,193.7) rotate(-90)" class="tl" style="font-size:7.2px">10<tspan dy="-2.4" style="font-size:5px">0</tspan></text>
<text transform="translate(276.6,150.1) rotate(-90)" class="tl" style="font-size:7.2px">10<tspan dy="-2.4" style="font-size:5px">1</tspan></text>
<text transform="translate(276.6,106.6) rotate(-90)" class="tl" style="font-size:7.2px">10<tspan dy="-2.4" style="font-size:5px">2</tspan></text>
<text transform="translate(276.6,63.0) rotate(-90)" class="tl" style="font-size:7.2px">10<tspan dy="-2.4" style="font-size:5px">3</tspan></text>
<text transform="translate(276.6,19.4) rotate(-90)" class="tl" style="font-size:7.2px">10<tspan dy="-2.4" style="font-size:5px">4</tspan></text>
<text transform="translate(268.8,115.4) rotate(-90)" class="tl" style="font-size:7px">FITC</text>
<text x="281.0" y="203.2" class="tl" style="font-size:7.1px" text-anchor="middle">0</text>
<text x="456.3" y="203.2" class="tl" style="font-size:7.1px" text-anchor="end">1023</text>
<text transform="translate(282.1,39.6) scale(0.905,1)" class="pl">C</text>
<line x1="326.0" y1="173.0" x2="326.0" y2="194.0" stroke="#000" stroke-width="1.6"/>
<text x="326.8" y="213.2" class="nl" text-anchor="middle">2N</text>
<line x1="375.5" y1="173.0" x2="375.5" y2="194.0" stroke="#000" stroke-width="1.6"/>
<text x="376.3" y="213.2" class="nl" text-anchor="middle">4N</text>
<rect x="280.9" y="232.8" width="175.10" height="174.30" fill="none" stroke="#2a2a2e" stroke-width="1.3"/>
<line x1="278.5" y1="407.10" x2="280.9" y2="407.10" stroke="#222" stroke-width="0.9"/>
<line x1="279.6" y1="393.98" x2="280.9" y2="393.98" stroke="#222" stroke-width="0.9"/>
<line x1="279.6" y1="386.31" x2="280.9" y2="386.31" stroke="#222" stroke-width="0.9"/>
<line x1="279.6" y1="380.87" x2="280.9" y2="380.87" stroke="#222" stroke-width="0.9"/>
<line x1="279.6" y1="376.64" x2="280.9" y2="376.64" stroke="#222" stroke-width="0.9"/>
<line x1="279.6" y1="373.19" x2="280.9" y2="373.19" stroke="#222" stroke-width="0.9"/>
<line x1="279.6" y1="370.27" x2="280.9" y2="370.27" stroke="#222" stroke-width="0.9"/>
<line x1="279.6" y1="367.75" x2="280.9" y2="367.75" stroke="#222" stroke-width="0.9"/>
<line x1="279.6" y1="365.52" x2="280.9" y2="365.52" stroke="#222" stroke-width="0.9"/>
<line x1="278.5" y1="363.53" x2="280.9" y2="363.53" stroke="#222" stroke-width="0.9"/>
<line x1="279.6" y1="350.41" x2="280.9" y2="350.41" stroke="#222" stroke-width="0.9"/>
<line x1="279.6" y1="342.73" x2="280.9" y2="342.73" stroke="#222" stroke-width="0.9"/>
<line x1="279.6" y1="337.29" x2="280.9" y2="337.29" stroke="#222" stroke-width="0.9"/>
<line x1="279.6" y1="333.07" x2="280.9" y2="333.07" stroke="#222" stroke-width="0.9"/>
<line x1="279.6" y1="329.62" x2="280.9" y2="329.62" stroke="#222" stroke-width="0.9"/>
<line x1="279.6" y1="326.70" x2="280.9" y2="326.70" stroke="#222" stroke-width="0.9"/>
<line x1="279.6" y1="324.17" x2="280.9" y2="324.17" stroke="#222" stroke-width="0.9"/>
<line x1="279.6" y1="321.94" x2="280.9" y2="321.94" stroke="#222" stroke-width="0.9"/>
<line x1="278.5" y1="319.95" x2="280.9" y2="319.95" stroke="#222" stroke-width="0.9"/>
<line x1="279.6" y1="306.83" x2="280.9" y2="306.83" stroke="#222" stroke-width="0.9"/>
<line x1="279.6" y1="299.16" x2="280.9" y2="299.16" stroke="#222" stroke-width="0.9"/>
<line x1="279.6" y1="293.72" x2="280.9" y2="293.72" stroke="#222" stroke-width="0.9"/>
<line x1="279.6" y1="289.49" x2="280.9" y2="289.49" stroke="#222" stroke-width="0.9"/>
<line x1="279.6" y1="286.04" x2="280.9" y2="286.04" stroke="#222" stroke-width="0.9"/>
<line x1="279.6" y1="283.12" x2="280.9" y2="283.12" stroke="#222" stroke-width="0.9"/>
<line x1="279.6" y1="280.60" x2="280.9" y2="280.60" stroke="#222" stroke-width="0.9"/>
<line x1="279.6" y1="278.37" x2="280.9" y2="278.37" stroke="#222" stroke-width="0.9"/>
<line x1="278.5" y1="276.38" x2="280.9" y2="276.38" stroke="#222" stroke-width="0.9"/>
<line x1="279.6" y1="263.26" x2="280.9" y2="263.26" stroke="#222" stroke-width="0.9"/>
<line x1="279.6" y1="255.58" x2="280.9" y2="255.58" stroke="#222" stroke-width="0.9"/>
<line x1="279.6" y1="250.14" x2="280.9" y2="250.14" stroke="#222" stroke-width="0.9"/>
<line x1="279.6" y1="245.92" x2="280.9" y2="245.92" stroke="#222" stroke-width="0.9"/>
<line x1="279.6" y1="242.47" x2="280.9" y2="242.47" stroke="#222" stroke-width="0.9"/>
<line x1="279.6" y1="239.55" x2="280.9" y2="239.55" stroke="#222" stroke-width="0.9"/>
<line x1="279.6" y1="237.02" x2="280.9" y2="237.02" stroke="#222" stroke-width="0.9"/>
<line x1="279.6" y1="234.79" x2="280.9" y2="234.79" stroke="#222" stroke-width="0.9"/>
<line x1="278.5" y1="232.8" x2="280.9" y2="232.8" stroke="#222" stroke-width="0.9"/>
<line x1="281.10" y1="407.1" x2="281.10" y2="409.1" stroke="#222" stroke-width="0.9"/>
<line x1="288.20" y1="407.1" x2="288.20" y2="409.1" stroke="#222" stroke-width="0.9"/>
<line x1="295.30" y1="407.1" x2="295.30" y2="409.1" stroke="#222" stroke-width="0.9"/>
<line x1="302.40" y1="407.1" x2="302.40" y2="409.1" stroke="#222" stroke-width="0.9"/>
<line x1="309.50" y1="407.1" x2="309.50" y2="409.1" stroke="#222" stroke-width="0.9"/>
<line x1="316.60" y1="407.1" x2="316.60" y2="409.1" stroke="#222" stroke-width="0.9"/>
<line x1="323.70" y1="407.1" x2="323.70" y2="409.1" stroke="#222" stroke-width="0.9"/>
<line x1="330.80" y1="407.1" x2="330.80" y2="409.1" stroke="#222" stroke-width="0.9"/>
<line x1="337.90" y1="407.1" x2="337.90" y2="409.1" stroke="#222" stroke-width="0.9"/>
<line x1="345.00" y1="407.1" x2="345.00" y2="409.1" stroke="#222" stroke-width="0.9"/>
<line x1="352.10" y1="407.1" x2="352.10" y2="409.1" stroke="#222" stroke-width="0.9"/>
<line x1="359.20" y1="407.1" x2="359.20" y2="409.1" stroke="#222" stroke-width="0.9"/>
<line x1="366.30" y1="407.1" x2="366.30" y2="409.1" stroke="#222" stroke-width="0.9"/>
<line x1="373.40" y1="407.1" x2="373.40" y2="409.1" stroke="#222" stroke-width="0.9"/>
<line x1="380.50" y1="407.1" x2="380.50" y2="409.1" stroke="#222" stroke-width="0.9"/>
<line x1="387.60" y1="407.1" x2="387.60" y2="409.1" stroke="#222" stroke-width="0.9"/>
<line x1="394.70" y1="407.1" x2="394.70" y2="409.1" stroke="#222" stroke-width="0.9"/>
<line x1="401.80" y1="407.1" x2="401.80" y2="409.1" stroke="#222" stroke-width="0.9"/>
<line x1="408.90" y1="407.1" x2="408.90" y2="409.1" stroke="#222" stroke-width="0.9"/>
<line x1="416.00" y1="407.1" x2="416.00" y2="409.1" stroke="#222" stroke-width="0.9"/>
<line x1="423.10" y1="407.1" x2="423.10" y2="409.1" stroke="#222" stroke-width="0.9"/>
<line x1="430.20" y1="407.1" x2="430.20" y2="409.1" stroke="#222" stroke-width="0.9"/>
<line x1="437.30" y1="407.1" x2="437.30" y2="409.1" stroke="#222" stroke-width="0.9"/>
<line x1="444.40" y1="407.1" x2="444.40" y2="409.1" stroke="#222" stroke-width="0.9"/>
<line x1="451.50" y1="407.1" x2="451.50" y2="409.1" stroke="#222" stroke-width="0.9"/>
<text transform="translate(276.6,406.5) rotate(-90)" class="tl" style="font-size:7.2px">10<tspan dy="-2.4" style="font-size:5px">0</tspan></text>
<text transform="translate(276.6,362.9) rotate(-90)" class="tl" style="font-size:7.2px">10<tspan dy="-2.4" style="font-size:5px">1</tspan></text>
<text transform="translate(276.6,319.4) rotate(-90)" class="tl" style="font-size:7.2px">10<tspan dy="-2.4" style="font-size:5px">2</tspan></text>
<text transform="translate(276.6,275.8) rotate(-90)" class="tl" style="font-size:7.2px">10<tspan dy="-2.4" style="font-size:5px">3</tspan></text>
<text transform="translate(276.6,232.2) rotate(-90)" class="tl" style="font-size:7.2px">10<tspan dy="-2.4" style="font-size:5px">4</tspan></text>
<text transform="translate(268.8,328.4) rotate(-90)" class="tl" style="font-size:7px">FITC</text>
<text x="281.0" y="416.0" class="tl" style="font-size:7.1px" text-anchor="middle">0</text>
<text x="456.3" y="416.0" class="tl" style="font-size:7.1px" text-anchor="end">1023</text>
<text transform="translate(282.1,252.6) scale(0.92,1)" class="pl">D</text>
<line x1="326.0" y1="386.0" x2="326.0" y2="407.0" stroke="#000" stroke-width="1.6"/>
<text x="326.8" y="426.2" class="nl" text-anchor="middle">2N</text>
<line x1="375.5" y1="386.0" x2="375.5" y2="407.0" stroke="#000" stroke-width="1.6"/>
<text x="376.3" y="426.2" class="nl" text-anchor="middle">4N</text>
<g filter="url(#jpg)">
<rect x="58.4" y="93.0" width="1.8" height="1.4" fill="#2448e0"/>
<rect x="58.4" y="94.4" width="1.7" height="2.0" fill="#2a5ef0"/>
<rect x="58.2" y="96.4" width="1.7" height="1.3" fill="#2448e0"/>
<rect x="58.8" y="96.4" width="0.6" height="1.3" fill="#56b4f4"/>
<rect x="58.0" y="97.6" width="2.8" height="1.5" fill="#2448e0"/>
<rect x="58.6" y="97.6" width="1.4" height="1.5" fill="#56b4f4"/>
<rect x="58.4" y="99.1" width="1.7" height="1.7" fill="#2448e0"/>
<rect x="58.1" y="100.8" width="2.8" height="1.1" fill="#2448e0"/>
<rect x="58.7" y="100.8" width="1.4" height="1.1" fill="#56b4f4"/>
<rect x="58.4" y="101.9" width="2.4" height="1.7" fill="#2448e0"/>
<rect x="59.0" y="101.9" width="1.0" height="1.7" fill="#56b4f4"/>
<rect x="58.3" y="103.6" width="2.1" height="1.8" fill="#2448e0"/>
<rect x="58.9" y="103.6" width="0.7" height="1.8" fill="#56b4f4"/>
<rect x="58.3" y="105.3" width="2.3" height="1.7" fill="#1a2ab4"/>
<rect x="58.9" y="105.3" width="0.9" height="1.7" fill="#56b4f4"/>
<rect x="58.1" y="107.1" width="2.1" height="2.1" fill="#2448e0"/>
<rect x="58.7" y="107.1" width="0.7" height="2.1" fill="#56b4f4"/>
<rect x="58.3" y="109.2" width="2.4" height="1.3" fill="#1a2ab4"/>
<rect x="58.0" y="110.5" width="3.0" height="1.3" fill="#1a2ab4"/>
<rect x="58.6" y="110.5" width="1.6" height="1.3" fill="#56b4f4"/>
<rect x="58.2" y="111.8" width="2.9" height="1.4" fill="#2a5ef0"/>
<rect x="58.8" y="111.8" width="1.5" height="1.4" fill="#56b4f4"/>
<rect x="58.6" y="113.2" width="2.7" height="1.7" fill="#1a2ab4"/>
<rect x="59.2" y="113.2" width="1.3" height="1.7" fill="#56b4f4"/>
<rect x="58.3" y="114.9" width="2.4" height="1.7" fill="#2448e0"/>
<rect x="58.4" y="116.6" width="2.3" height="2.1" fill="#2448e0"/>
<rect x="280.2" y="90.5" width="2.0" height="1.9" fill="#2a5ef0"/>
<rect x="280.0" y="92.4" width="2.0" height="2.0" fill="#2a5ef0"/>
<rect x="280.0" y="94.4" width="2.9" height="1.4" fill="#2a5ef0"/>
<rect x="280.6" y="94.4" width="1.5" height="1.4" fill="#56b4f4"/>
<rect x="279.8" y="95.8" width="2.7" height="1.1" fill="#2448e0"/>
<rect x="280.4" y="95.8" width="1.3" height="1.1" fill="#56b4f4"/>
<rect x="279.8" y="96.9" width="2.3" height="2.1" fill="#1a2ab4"/>
<rect x="280.4" y="96.9" width="0.9" height="2.1" fill="#56b4f4"/>
<rect x="280.4" y="99.0" width="2.7" height="2.1" fill="#1a2ab4"/>
<rect x="280.0" y="101.0" width="2.6" height="2.2" fill="#2448e0"/>
<rect x="280.6" y="101.0" width="1.2" height="2.2" fill="#56b4f4"/>
<rect x="279.9" y="103.2" width="1.9" height="1.2" fill="#1a2ab4"/>
<rect x="279.8" y="104.4" width="2.0" height="1.2" fill="#2a5ef0"/>
<rect x="280.4" y="104.4" width="0.6" height="1.2" fill="#56b4f4"/>
<rect x="280.3" y="105.6" width="2.9" height="1.7" fill="#2a5ef0"/>
<rect x="280.1" y="107.3" width="2.6" height="1.8" fill="#2a5ef0"/>
<rect x="279.8" y="109.1" width="2.2" height="1.5" fill="#2a5ef0"/>
<rect x="280.4" y="109.1" width="0.8" height="1.5" fill="#56b4f4"/>
<rect x="280.1" y="110.6" width="3.0" height="1.2" fill="#2448e0"/>
<rect x="280.7" y="110.6" width="1.6" height="1.2" fill="#56b4f4"/>
<rect x="279.8" y="111.8" width="1.6" height="1.1" fill="#2448e0"/>
<rect x="279.8" y="112.9" width="2.5" height="2.1" fill="#2448e0"/>
<rect x="58.3" y="305.4" width="1.8" height="1.7" fill="#1a2ab4"/>
<rect x="58.2" y="307.1" width="2.3" height="1.7" fill="#1a2ab4"/>
<rect x="58.5" y="308.9" width="2.3" height="2.2" fill="#2448e0"/>
<rect x="58.7" y="311.1" width="2.6" height="1.2" fill="#1a2ab4"/>
<rect x="58.1" y="312.2" width="1.8" height="2.0" fill="#2a5ef0"/>
<rect x="58.8" y="314.2" width="2.6" height="1.4" fill="#2a5ef0"/>
<rect x="58.2" y="315.7" width="2.5" height="1.4" fill="#1a2ab4"/>
<rect x="58.4" y="317.0" width="2.9" height="1.6" fill="#2448e0"/>
<rect x="58.4" y="318.6" width="2.7" height="1.6" fill="#2448e0"/>
<rect x="58.7" y="320.3" width="2.7" height="1.7" fill="#2448e0"/>
<rect x="280.3" y="305.8" width="2.7" height="2.0" fill="#2448e0"/>
<rect x="280.3" y="307.8" width="2.3" height="1.2" fill="#2448e0"/>
<rect x="279.9" y="309.0" width="2.3" height="1.9" fill="#2a5ef0"/>
<rect x="280.5" y="311.0" width="2.9" height="1.5" fill="#1a2ab4"/>
<rect x="281.1" y="311.0" width="1.5" height="1.5" fill="#56b4f4"/>
<rect x="280.0" y="312.5" width="2.3" height="1.1" fill="#1a2ab4"/>
<rect x="280.6" y="312.5" width="0.9" height="1.1" fill="#56b4f4"/>
<rect x="280.1" y="313.6" width="2.8" height="2.1" fill="#2a5ef0"/>
<rect x="280.7" y="313.6" width="1.4" height="2.1" fill="#56b4f4"/>
<rect x="279.8" y="315.7" width="2.8" height="1.8" fill="#1a2ab4"/>
<rect x="279.8" y="317.5" width="2.3" height="1.9" fill="#2a5ef0"/>
<rect x="280.4" y="317.5" width="0.9" height="1.9" fill="#56b4f4"/>
<rect x="280.0" y="319.4" width="3.0" height="2.0" fill="#1a2ab4"/>
<rect x="280.5" y="321.3" width="1.8" height="1.1" fill="#2448e0"/>
<rect x="281.1" y="321.3" width="0.6" height="1.1" fill="#56b4f4"/>
<rect x="279.8" y="322.4" width="2.7" height="2.1" fill="#2a5ef0"/>
<rect x="280.1" y="324.5" width="2.1" height="1.8" fill="#2448e0"/>
<rect x="280.7" y="324.5" width="0.7" height="1.8" fill="#56b4f4"/>
<rect x="279.8" y="326.3" width="2.6" height="2.0" fill="#2a5ef0"/>
<rect x="280.4" y="328.3" width="2.8" height="1.5" fill="#2448e0"/>
</g>
<text x="170.8" y="157.0" class="pc">70% G0/G1</text>
<text x="170.8" y="170.3" class="pc">19% S</text>
<text x="170.8" y="183.7" class="pc">11% G2/M</text>
<text x="170.8" y="370.6" class="pc">56% G0/G1</text>
<text x="170.8" y="384.0" class="pc">32% S</text>
<text x="170.8" y="397.3" class="pc">12% G2/M</text>
<text x="391.9" y="157.0" class="pc">68% G0/G1</text>
<text x="391.9" y="170.3" class="pc">12% S</text>
<text x="391.9" y="183.7" class="pc">20% G2/M</text>
<text x="391.9" y="373.5" class="pc">44% G0/G1</text>
<text x="391.9" y="386.9" class="pc">16% S</text>
<text x="391.9" y="400.2" class="pc">40% G2/M</text>
<text x="61.3" y="78.6" class="gl">G1b</text>
<path d="M75.7,84.3 L87.8,84.3 L87.8,87.3 L75.7,87.3Z" fill="#000"/>
<path d="M86.8,80.8 L97.8,85.8 L86.8,90.8 L89.0,85.8Z" fill="#000"/>
<text x="143.7" y="116.3" class="gl">G1a</text>
<path d="M129.8,111.4 L141.7,111.4 L141.7,114.4 L129.8,114.4Z" fill="#000"/>
<path d="M130.8,107.9 L119.8,112.9 L130.8,117.9 L128.60000000000002,112.9Z" fill="#000"/>
<text x="61.7" y="288.1" class="gl">G1b</text>
<path d="M70.9,293.7 L82.5,293.7 L82.5,296.7 L70.9,296.7Z" fill="#000"/>
<path d="M81.5,290.2 L92.5,295.2 L81.5,300.2 L83.7,295.2Z" fill="#000"/>
<text x="143.5" y="325.6" class="gl">G1a</text>
<path d="M129.4,321.0 L141.9,321.0 L141.9,324.0 L129.4,324.0Z" fill="#000"/>
<path d="M130.4,317.5 L119.4,322.5 L130.4,327.5 L128.20000000000002,322.5Z" fill="#000"/>
<text x="433.6" y="292.8" class="gl" style="font-size:14px;stroke-width:0.35px">8N</text>
<text x="143.6" y="15.7" class="big" font-size="22.5" text-anchor="middle">Control</text>
<text x="370.7" y="15.6" class="big" font-size="22.4" text-anchor="middle">Nocodazole</text>
<text transform="translate(20,206.5) rotate(-90)" class="big" font-size="28" text-anchor="middle">CDC2-FITC</text>
<text x="262" y="454.6" class="big" font-size="29" text-anchor="middle">DNA Content</text>
<text x="466.3" y="108.3" class="big" font-size="21">p21<tspan font-size="15.8" dx="1.2" dy="-6.5">+/+</tspan></text>
<text x="466.3" y="326.6" class="big" font-size="21">p21<tspan font-size="15.5" dx="1.8" dy="-7.5">-/-</tspan></text>
</g>
</svg>
</body></html>
